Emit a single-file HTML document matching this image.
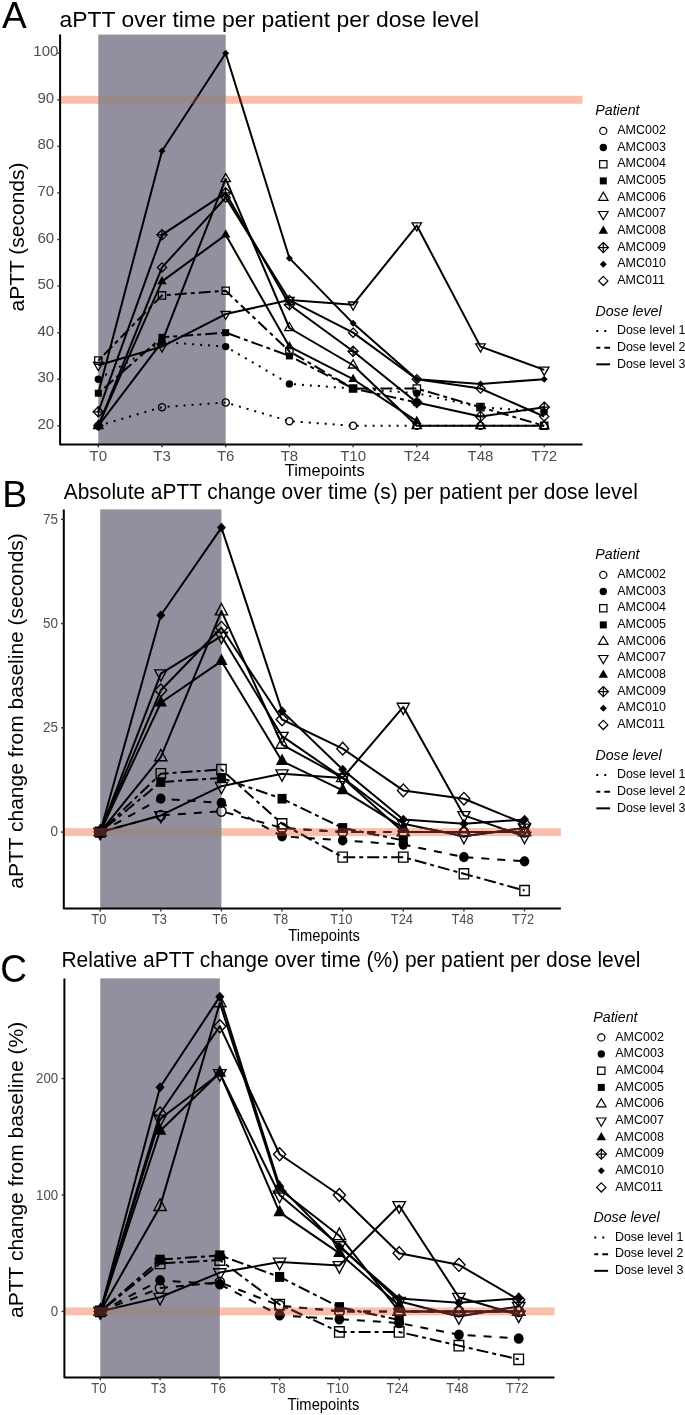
<!DOCTYPE html>
<html><head><meta charset="utf-8"><title>aPTT figure</title>
<style>
html,body{margin:0;padding:0;background:#fff;}
svg{display:block;will-change:transform;}
svg text{font-family:"Liberation Sans", sans-serif;}
</style></head>
<body>
<svg width="685" height="1415" viewBox="0 0 685 1415">
<rect width="685" height="1415" fill="#fff"/>
<rect x="98.30" y="34.60" width="127.40" height="409.80" fill="#948f9e"/>
<polyline points="98.30,425.80 162.00,407.17 225.70,402.51 289.40,421.14 353.10,425.80 416.80,425.80 480.50,425.80 544.20,425.80" fill="none" stroke="#000" stroke-width="2.0" stroke-linejoin="round" stroke-dasharray="2 6"/>
<polyline points="98.30,379.23 162.00,341.97 225.70,346.62 289.40,383.88 353.10,388.54 416.80,393.20 480.50,407.17 544.20,411.83" fill="none" stroke="#000" stroke-width="2.0" stroke-linejoin="round" stroke-dasharray="2 6"/>
<polyline points="98.30,360.60 162.00,295.39 225.70,290.73 289.40,351.28 353.10,388.54 416.80,388.54 480.50,407.17 544.20,425.80" fill="none" stroke="#000" stroke-width="2.0" stroke-linejoin="round" stroke-dasharray="4 4 12 4"/>
<polyline points="98.30,393.20 162.00,337.31 225.70,332.65 289.40,355.94 353.10,388.54 416.80,402.51" fill="none" stroke="#000" stroke-width="2.0" stroke-linejoin="round" stroke-dasharray="4 4 12 4"/>
<polyline points="98.30,425.80 162.00,341.97 225.70,178.95 289.40,327.99 353.10,365.25 416.80,425.80 480.50,425.80 544.20,425.80" fill="none" stroke="#000" stroke-width="2.0" stroke-linejoin="round"/>
<polyline points="98.30,365.25 162.00,346.62 225.70,314.02 289.40,300.05 353.10,304.71 416.80,225.53 480.50,346.62 544.20,369.91" fill="none" stroke="#000" stroke-width="2.0" stroke-linejoin="round"/>
<polyline points="98.30,425.80 162.00,281.42 225.70,234.84 289.40,346.62 353.10,379.23 416.80,421.14" fill="none" stroke="#000" stroke-width="2.0" stroke-linejoin="round"/>
<polyline points="98.30,411.83 162.00,234.84 225.70,192.93 289.40,304.71 353.10,351.28 416.80,402.51 480.50,416.49 544.20,407.17" fill="none" stroke="#000" stroke-width="2.0" stroke-linejoin="round"/>
<polyline points="98.30,393.20 162.00,151.01 225.70,53.20 289.40,258.13 353.10,323.34 416.80,379.23 480.50,383.88 544.20,379.23" fill="none" stroke="#000" stroke-width="2.0" stroke-linejoin="round"/>
<polyline points="98.30,425.80 162.00,267.45 225.70,197.58 289.40,300.05 353.10,332.65 416.80,379.23 480.50,388.54 544.20,416.49" fill="none" stroke="#000" stroke-width="2.0" stroke-linejoin="round"/>
<g transform="translate(98.30 425.80)"><circle r="3.6" fill="none" stroke="#000" stroke-width="1.3" vector-effect="non-scaling-stroke"/></g>
<g transform="translate(162.00 407.17)"><circle r="3.6" fill="none" stroke="#000" stroke-width="1.3" vector-effect="non-scaling-stroke"/></g>
<g transform="translate(225.70 402.51)"><circle r="3.6" fill="none" stroke="#000" stroke-width="1.3" vector-effect="non-scaling-stroke"/></g>
<g transform="translate(289.40 421.14)"><circle r="3.6" fill="none" stroke="#000" stroke-width="1.3" vector-effect="non-scaling-stroke"/></g>
<g transform="translate(353.10 425.80)"><circle r="3.6" fill="none" stroke="#000" stroke-width="1.3" vector-effect="non-scaling-stroke"/></g>
<g transform="translate(416.80 425.80)"><circle r="3.6" fill="none" stroke="#000" stroke-width="1.3" vector-effect="non-scaling-stroke"/></g>
<g transform="translate(480.50 425.80)"><circle r="3.6" fill="none" stroke="#000" stroke-width="1.3" vector-effect="non-scaling-stroke"/></g>
<g transform="translate(544.20 425.80)"><circle r="3.6" fill="none" stroke="#000" stroke-width="1.3" vector-effect="non-scaling-stroke"/></g>
<g transform="translate(98.30 379.23)"><circle r="3.7" fill="#000"/></g>
<g transform="translate(162.00 341.97)"><circle r="3.7" fill="#000"/></g>
<g transform="translate(225.70 346.62)"><circle r="3.7" fill="#000"/></g>
<g transform="translate(289.40 383.88)"><circle r="3.7" fill="#000"/></g>
<g transform="translate(353.10 388.54)"><circle r="3.7" fill="#000"/></g>
<g transform="translate(416.80 393.20)"><circle r="3.7" fill="#000"/></g>
<g transform="translate(480.50 407.17)"><circle r="3.7" fill="#000"/></g>
<g transform="translate(544.20 411.83)"><circle r="3.7" fill="#000"/></g>
<g transform="translate(98.30 360.60)"><rect x="-3.65" y="-3.65" width="7.3" height="7.3" fill="none" stroke="#000" stroke-width="1.3" vector-effect="non-scaling-stroke"/></g>
<g transform="translate(162.00 295.39)"><rect x="-3.65" y="-3.65" width="7.3" height="7.3" fill="none" stroke="#000" stroke-width="1.3" vector-effect="non-scaling-stroke"/></g>
<g transform="translate(225.70 290.73)"><rect x="-3.65" y="-3.65" width="7.3" height="7.3" fill="none" stroke="#000" stroke-width="1.3" vector-effect="non-scaling-stroke"/></g>
<g transform="translate(289.40 351.28)"><rect x="-3.65" y="-3.65" width="7.3" height="7.3" fill="none" stroke="#000" stroke-width="1.3" vector-effect="non-scaling-stroke"/></g>
<g transform="translate(353.10 388.54)"><rect x="-3.65" y="-3.65" width="7.3" height="7.3" fill="none" stroke="#000" stroke-width="1.3" vector-effect="non-scaling-stroke"/></g>
<g transform="translate(416.80 388.54)"><rect x="-3.65" y="-3.65" width="7.3" height="7.3" fill="none" stroke="#000" stroke-width="1.3" vector-effect="non-scaling-stroke"/></g>
<g transform="translate(480.50 407.17)"><rect x="-3.65" y="-3.65" width="7.3" height="7.3" fill="none" stroke="#000" stroke-width="1.3" vector-effect="non-scaling-stroke"/></g>
<g transform="translate(544.20 425.80)"><rect x="-3.65" y="-3.65" width="7.3" height="7.3" fill="none" stroke="#000" stroke-width="1.3" vector-effect="non-scaling-stroke"/></g>
<g transform="translate(98.30 393.20)"><rect x="-3.5" y="-3.5" width="7" height="7" fill="#000"/></g>
<g transform="translate(162.00 337.31)"><rect x="-3.5" y="-3.5" width="7" height="7" fill="#000"/></g>
<g transform="translate(225.70 332.65)"><rect x="-3.5" y="-3.5" width="7" height="7" fill="#000"/></g>
<g transform="translate(289.40 355.94)"><rect x="-3.5" y="-3.5" width="7" height="7" fill="#000"/></g>
<g transform="translate(353.10 388.54)"><rect x="-3.5" y="-3.5" width="7" height="7" fill="#000"/></g>
<g transform="translate(416.80 402.51)"><rect x="-3.5" y="-3.5" width="7" height="7" fill="#000"/></g>
<g transform="translate(98.30 425.80)"><polygon points="0.00,-5.45 4.72,2.73 -4.72,2.73" fill="none" stroke="#000" stroke-width="1.3" vector-effect="non-scaling-stroke"/></g>
<g transform="translate(162.00 341.97)"><polygon points="0.00,-5.45 4.72,2.73 -4.72,2.73" fill="none" stroke="#000" stroke-width="1.3" vector-effect="non-scaling-stroke"/></g>
<g transform="translate(225.70 178.95)"><polygon points="0.00,-5.45 4.72,2.73 -4.72,2.73" fill="none" stroke="#000" stroke-width="1.3" vector-effect="non-scaling-stroke"/></g>
<g transform="translate(289.40 327.99)"><polygon points="0.00,-5.45 4.72,2.73 -4.72,2.73" fill="none" stroke="#000" stroke-width="1.3" vector-effect="non-scaling-stroke"/></g>
<g transform="translate(353.10 365.25)"><polygon points="0.00,-5.45 4.72,2.73 -4.72,2.73" fill="none" stroke="#000" stroke-width="1.3" vector-effect="non-scaling-stroke"/></g>
<g transform="translate(416.80 425.80)"><polygon points="0.00,-5.45 4.72,2.73 -4.72,2.73" fill="none" stroke="#000" stroke-width="1.3" vector-effect="non-scaling-stroke"/></g>
<g transform="translate(480.50 425.80)"><polygon points="0.00,-5.45 4.72,2.73 -4.72,2.73" fill="none" stroke="#000" stroke-width="1.3" vector-effect="non-scaling-stroke"/></g>
<g transform="translate(544.20 425.80)"><polygon points="0.00,-5.45 4.72,2.73 -4.72,2.73" fill="none" stroke="#000" stroke-width="1.3" vector-effect="non-scaling-stroke"/></g>
<g transform="translate(98.30 365.25)"><polygon points="0.00,5.45 4.72,-2.73 -4.72,-2.73" fill="none" stroke="#000" stroke-width="1.3" vector-effect="non-scaling-stroke"/></g>
<g transform="translate(162.00 346.62)"><polygon points="0.00,5.45 4.72,-2.73 -4.72,-2.73" fill="none" stroke="#000" stroke-width="1.3" vector-effect="non-scaling-stroke"/></g>
<g transform="translate(225.70 314.02)"><polygon points="0.00,5.45 4.72,-2.73 -4.72,-2.73" fill="none" stroke="#000" stroke-width="1.3" vector-effect="non-scaling-stroke"/></g>
<g transform="translate(289.40 300.05)"><polygon points="0.00,5.45 4.72,-2.73 -4.72,-2.73" fill="none" stroke="#000" stroke-width="1.3" vector-effect="non-scaling-stroke"/></g>
<g transform="translate(353.10 304.71)"><polygon points="0.00,5.45 4.72,-2.73 -4.72,-2.73" fill="none" stroke="#000" stroke-width="1.3" vector-effect="non-scaling-stroke"/></g>
<g transform="translate(416.80 225.53)"><polygon points="0.00,5.45 4.72,-2.73 -4.72,-2.73" fill="none" stroke="#000" stroke-width="1.3" vector-effect="non-scaling-stroke"/></g>
<g transform="translate(480.50 346.62)"><polygon points="0.00,5.45 4.72,-2.73 -4.72,-2.73" fill="none" stroke="#000" stroke-width="1.3" vector-effect="non-scaling-stroke"/></g>
<g transform="translate(544.20 369.91)"><polygon points="0.00,5.45 4.72,-2.73 -4.72,-2.73" fill="none" stroke="#000" stroke-width="1.3" vector-effect="non-scaling-stroke"/></g>
<g transform="translate(98.30 425.80)"><polygon points="0.00,-5.50 4.76,2.75 -4.76,2.75" fill="#000"/></g>
<g transform="translate(162.00 281.42)"><polygon points="0.00,-5.50 4.76,2.75 -4.76,2.75" fill="#000"/></g>
<g transform="translate(225.70 234.84)"><polygon points="0.00,-5.50 4.76,2.75 -4.76,2.75" fill="#000"/></g>
<g transform="translate(289.40 346.62)"><polygon points="0.00,-5.50 4.76,2.75 -4.76,2.75" fill="#000"/></g>
<g transform="translate(353.10 379.23)"><polygon points="0.00,-5.50 4.76,2.75 -4.76,2.75" fill="#000"/></g>
<g transform="translate(416.80 421.14)"><polygon points="0.00,-5.50 4.76,2.75 -4.76,2.75" fill="#000"/></g>
<g transform="translate(98.30 411.83)"><polygon points="0,-5.10 5.10,0 0,5.10 -5.10,0" fill="none" stroke="#000" stroke-width="1.3" vector-effect="non-scaling-stroke"/><path d="M0 -5.10V5.10M-5.10 0H5.10" fill="none" stroke="#000" stroke-width="1.3" vector-effect="non-scaling-stroke"/></g>
<g transform="translate(162.00 234.84)"><polygon points="0,-5.10 5.10,0 0,5.10 -5.10,0" fill="none" stroke="#000" stroke-width="1.3" vector-effect="non-scaling-stroke"/><path d="M0 -5.10V5.10M-5.10 0H5.10" fill="none" stroke="#000" stroke-width="1.3" vector-effect="non-scaling-stroke"/></g>
<g transform="translate(225.70 192.93)"><polygon points="0,-5.10 5.10,0 0,5.10 -5.10,0" fill="none" stroke="#000" stroke-width="1.3" vector-effect="non-scaling-stroke"/><path d="M0 -5.10V5.10M-5.10 0H5.10" fill="none" stroke="#000" stroke-width="1.3" vector-effect="non-scaling-stroke"/></g>
<g transform="translate(289.40 304.71)"><polygon points="0,-5.10 5.10,0 0,5.10 -5.10,0" fill="none" stroke="#000" stroke-width="1.3" vector-effect="non-scaling-stroke"/><path d="M0 -5.10V5.10M-5.10 0H5.10" fill="none" stroke="#000" stroke-width="1.3" vector-effect="non-scaling-stroke"/></g>
<g transform="translate(353.10 351.28)"><polygon points="0,-5.10 5.10,0 0,5.10 -5.10,0" fill="none" stroke="#000" stroke-width="1.3" vector-effect="non-scaling-stroke"/><path d="M0 -5.10V5.10M-5.10 0H5.10" fill="none" stroke="#000" stroke-width="1.3" vector-effect="non-scaling-stroke"/></g>
<g transform="translate(416.80 402.51)"><polygon points="0,-5.10 5.10,0 0,5.10 -5.10,0" fill="none" stroke="#000" stroke-width="1.3" vector-effect="non-scaling-stroke"/><path d="M0 -5.10V5.10M-5.10 0H5.10" fill="none" stroke="#000" stroke-width="1.3" vector-effect="non-scaling-stroke"/></g>
<g transform="translate(480.50 416.49)"><polygon points="0,-5.10 5.10,0 0,5.10 -5.10,0" fill="none" stroke="#000" stroke-width="1.3" vector-effect="non-scaling-stroke"/><path d="M0 -5.10V5.10M-5.10 0H5.10" fill="none" stroke="#000" stroke-width="1.3" vector-effect="non-scaling-stroke"/></g>
<g transform="translate(544.20 407.17)"><polygon points="0,-5.10 5.10,0 0,5.10 -5.10,0" fill="none" stroke="#000" stroke-width="1.3" vector-effect="non-scaling-stroke"/><path d="M0 -5.10V5.10M-5.10 0H5.10" fill="none" stroke="#000" stroke-width="1.3" vector-effect="non-scaling-stroke"/></g>
<g transform="translate(98.30 393.20)"><polygon points="0,-3.50 3.50,0 0,3.50 -3.50,0" fill="#000"/></g>
<g transform="translate(162.00 151.01)"><polygon points="0,-3.50 3.50,0 0,3.50 -3.50,0" fill="#000"/></g>
<g transform="translate(225.70 53.20)"><polygon points="0,-3.50 3.50,0 0,3.50 -3.50,0" fill="#000"/></g>
<g transform="translate(289.40 258.13)"><polygon points="0,-3.50 3.50,0 0,3.50 -3.50,0" fill="#000"/></g>
<g transform="translate(353.10 323.34)"><polygon points="0,-3.50 3.50,0 0,3.50 -3.50,0" fill="#000"/></g>
<g transform="translate(416.80 379.23)"><polygon points="0,-3.50 3.50,0 0,3.50 -3.50,0" fill="#000"/></g>
<g transform="translate(480.50 383.88)"><polygon points="0,-3.50 3.50,0 0,3.50 -3.50,0" fill="#000"/></g>
<g transform="translate(544.20 379.23)"><polygon points="0,-3.50 3.50,0 0,3.50 -3.50,0" fill="#000"/></g>
<g transform="translate(98.30 425.80)"><polygon points="0,-4.60 4.60,0 0,4.60 -4.60,0" fill="none" stroke="#000" stroke-width="1.3" vector-effect="non-scaling-stroke"/></g>
<g transform="translate(162.00 267.45)"><polygon points="0,-4.60 4.60,0 0,4.60 -4.60,0" fill="none" stroke="#000" stroke-width="1.3" vector-effect="non-scaling-stroke"/></g>
<g transform="translate(225.70 197.58)"><polygon points="0,-4.60 4.60,0 0,4.60 -4.60,0" fill="none" stroke="#000" stroke-width="1.3" vector-effect="non-scaling-stroke"/></g>
<g transform="translate(289.40 300.05)"><polygon points="0,-4.60 4.60,0 0,4.60 -4.60,0" fill="none" stroke="#000" stroke-width="1.3" vector-effect="non-scaling-stroke"/></g>
<g transform="translate(353.10 332.65)"><polygon points="0,-4.60 4.60,0 0,4.60 -4.60,0" fill="none" stroke="#000" stroke-width="1.3" vector-effect="non-scaling-stroke"/></g>
<g transform="translate(416.80 379.23)"><polygon points="0,-4.60 4.60,0 0,4.60 -4.60,0" fill="none" stroke="#000" stroke-width="1.3" vector-effect="non-scaling-stroke"/></g>
<g transform="translate(480.50 388.54)"><polygon points="0,-4.60 4.60,0 0,4.60 -4.60,0" fill="none" stroke="#000" stroke-width="1.3" vector-effect="non-scaling-stroke"/></g>
<g transform="translate(544.20 416.49)"><polygon points="0,-4.60 4.60,0 0,4.60 -4.60,0" fill="none" stroke="#000" stroke-width="1.3" vector-effect="non-scaling-stroke"/></g>
<rect x="60.10" y="95.78" width="38.20" height="8.0" fill="rgb(236,83,26)" fill-opacity="0.365"/>
<rect x="98.30" y="95.78" width="127.40" height="8.0" fill="rgb(158,127,92)" fill-opacity="0.34"/>
<rect x="225.70" y="95.78" width="356.80" height="8.0" fill="rgb(236,83,26)" fill-opacity="0.365"/>
<clipPath id="clipA"><rect x="60.10" y="95.78" width="522.40" height="8.0"/></clipPath>
<g clip-path="url(#clipA)"><polyline points="98.30,425.80 162.00,407.17 225.70,402.51 289.40,421.14 353.10,425.80 416.80,425.80 480.50,425.80 544.20,425.80" fill="none" stroke="#4c1f1f" stroke-width="2.0" stroke-linejoin="round" stroke-dasharray="2 6"/>
<polyline points="98.30,379.23 162.00,341.97 225.70,346.62 289.40,383.88 353.10,388.54 416.80,393.20 480.50,407.17 544.20,411.83" fill="none" stroke="#4c1f1f" stroke-width="2.0" stroke-linejoin="round" stroke-dasharray="2 6"/>
<polyline points="98.30,360.60 162.00,295.39 225.70,290.73 289.40,351.28 353.10,388.54 416.80,388.54 480.50,407.17 544.20,425.80" fill="none" stroke="#4c1f1f" stroke-width="2.0" stroke-linejoin="round" stroke-dasharray="4 4 12 4"/>
<polyline points="98.30,393.20 162.00,337.31 225.70,332.65 289.40,355.94 353.10,388.54 416.80,402.51" fill="none" stroke="#4c1f1f" stroke-width="2.0" stroke-linejoin="round" stroke-dasharray="4 4 12 4"/>
<polyline points="98.30,425.80 162.00,341.97 225.70,178.95 289.40,327.99 353.10,365.25 416.80,425.80 480.50,425.80 544.20,425.80" fill="none" stroke="#4c1f1f" stroke-width="2.0" stroke-linejoin="round"/>
<polyline points="98.30,365.25 162.00,346.62 225.70,314.02 289.40,300.05 353.10,304.71 416.80,225.53 480.50,346.62 544.20,369.91" fill="none" stroke="#4c1f1f" stroke-width="2.0" stroke-linejoin="round"/>
<polyline points="98.30,425.80 162.00,281.42 225.70,234.84 289.40,346.62 353.10,379.23 416.80,421.14" fill="none" stroke="#4c1f1f" stroke-width="2.0" stroke-linejoin="round"/>
<polyline points="98.30,411.83 162.00,234.84 225.70,192.93 289.40,304.71 353.10,351.28 416.80,402.51 480.50,416.49 544.20,407.17" fill="none" stroke="#4c1f1f" stroke-width="2.0" stroke-linejoin="round"/>
<polyline points="98.30,393.20 162.00,151.01 225.70,53.20 289.40,258.13 353.10,323.34 416.80,379.23 480.50,383.88 544.20,379.23" fill="none" stroke="#4c1f1f" stroke-width="2.0" stroke-linejoin="round"/>
<polyline points="98.30,425.80 162.00,267.45 225.70,197.58 289.40,300.05 353.10,332.65 416.80,379.23 480.50,388.54 544.20,416.49" fill="none" stroke="#4c1f1f" stroke-width="2.0" stroke-linejoin="round"/>
<g transform="translate(98.30 425.80)"><circle r="3.6" fill="none" stroke="#4c1f1f" stroke-width="1.3" vector-effect="non-scaling-stroke"/></g>
<g transform="translate(162.00 407.17)"><circle r="3.6" fill="none" stroke="#4c1f1f" stroke-width="1.3" vector-effect="non-scaling-stroke"/></g>
<g transform="translate(225.70 402.51)"><circle r="3.6" fill="none" stroke="#4c1f1f" stroke-width="1.3" vector-effect="non-scaling-stroke"/></g>
<g transform="translate(289.40 421.14)"><circle r="3.6" fill="none" stroke="#4c1f1f" stroke-width="1.3" vector-effect="non-scaling-stroke"/></g>
<g transform="translate(353.10 425.80)"><circle r="3.6" fill="none" stroke="#4c1f1f" stroke-width="1.3" vector-effect="non-scaling-stroke"/></g>
<g transform="translate(416.80 425.80)"><circle r="3.6" fill="none" stroke="#4c1f1f" stroke-width="1.3" vector-effect="non-scaling-stroke"/></g>
<g transform="translate(480.50 425.80)"><circle r="3.6" fill="none" stroke="#4c1f1f" stroke-width="1.3" vector-effect="non-scaling-stroke"/></g>
<g transform="translate(544.20 425.80)"><circle r="3.6" fill="none" stroke="#4c1f1f" stroke-width="1.3" vector-effect="non-scaling-stroke"/></g>
<g transform="translate(98.30 379.23)"><circle r="3.7" fill="#4c1f1f"/></g>
<g transform="translate(162.00 341.97)"><circle r="3.7" fill="#4c1f1f"/></g>
<g transform="translate(225.70 346.62)"><circle r="3.7" fill="#4c1f1f"/></g>
<g transform="translate(289.40 383.88)"><circle r="3.7" fill="#4c1f1f"/></g>
<g transform="translate(353.10 388.54)"><circle r="3.7" fill="#4c1f1f"/></g>
<g transform="translate(416.80 393.20)"><circle r="3.7" fill="#4c1f1f"/></g>
<g transform="translate(480.50 407.17)"><circle r="3.7" fill="#4c1f1f"/></g>
<g transform="translate(544.20 411.83)"><circle r="3.7" fill="#4c1f1f"/></g>
<g transform="translate(98.30 360.60)"><rect x="-3.65" y="-3.65" width="7.3" height="7.3" fill="none" stroke="#4c1f1f" stroke-width="1.3" vector-effect="non-scaling-stroke"/></g>
<g transform="translate(162.00 295.39)"><rect x="-3.65" y="-3.65" width="7.3" height="7.3" fill="none" stroke="#4c1f1f" stroke-width="1.3" vector-effect="non-scaling-stroke"/></g>
<g transform="translate(225.70 290.73)"><rect x="-3.65" y="-3.65" width="7.3" height="7.3" fill="none" stroke="#4c1f1f" stroke-width="1.3" vector-effect="non-scaling-stroke"/></g>
<g transform="translate(289.40 351.28)"><rect x="-3.65" y="-3.65" width="7.3" height="7.3" fill="none" stroke="#4c1f1f" stroke-width="1.3" vector-effect="non-scaling-stroke"/></g>
<g transform="translate(353.10 388.54)"><rect x="-3.65" y="-3.65" width="7.3" height="7.3" fill="none" stroke="#4c1f1f" stroke-width="1.3" vector-effect="non-scaling-stroke"/></g>
<g transform="translate(416.80 388.54)"><rect x="-3.65" y="-3.65" width="7.3" height="7.3" fill="none" stroke="#4c1f1f" stroke-width="1.3" vector-effect="non-scaling-stroke"/></g>
<g transform="translate(480.50 407.17)"><rect x="-3.65" y="-3.65" width="7.3" height="7.3" fill="none" stroke="#4c1f1f" stroke-width="1.3" vector-effect="non-scaling-stroke"/></g>
<g transform="translate(544.20 425.80)"><rect x="-3.65" y="-3.65" width="7.3" height="7.3" fill="none" stroke="#4c1f1f" stroke-width="1.3" vector-effect="non-scaling-stroke"/></g>
<g transform="translate(98.30 393.20)"><rect x="-3.5" y="-3.5" width="7" height="7" fill="#4c1f1f"/></g>
<g transform="translate(162.00 337.31)"><rect x="-3.5" y="-3.5" width="7" height="7" fill="#4c1f1f"/></g>
<g transform="translate(225.70 332.65)"><rect x="-3.5" y="-3.5" width="7" height="7" fill="#4c1f1f"/></g>
<g transform="translate(289.40 355.94)"><rect x="-3.5" y="-3.5" width="7" height="7" fill="#4c1f1f"/></g>
<g transform="translate(353.10 388.54)"><rect x="-3.5" y="-3.5" width="7" height="7" fill="#4c1f1f"/></g>
<g transform="translate(416.80 402.51)"><rect x="-3.5" y="-3.5" width="7" height="7" fill="#4c1f1f"/></g>
<g transform="translate(98.30 425.80)"><polygon points="0.00,-5.45 4.72,2.73 -4.72,2.73" fill="none" stroke="#4c1f1f" stroke-width="1.3" vector-effect="non-scaling-stroke"/></g>
<g transform="translate(162.00 341.97)"><polygon points="0.00,-5.45 4.72,2.73 -4.72,2.73" fill="none" stroke="#4c1f1f" stroke-width="1.3" vector-effect="non-scaling-stroke"/></g>
<g transform="translate(225.70 178.95)"><polygon points="0.00,-5.45 4.72,2.73 -4.72,2.73" fill="none" stroke="#4c1f1f" stroke-width="1.3" vector-effect="non-scaling-stroke"/></g>
<g transform="translate(289.40 327.99)"><polygon points="0.00,-5.45 4.72,2.73 -4.72,2.73" fill="none" stroke="#4c1f1f" stroke-width="1.3" vector-effect="non-scaling-stroke"/></g>
<g transform="translate(353.10 365.25)"><polygon points="0.00,-5.45 4.72,2.73 -4.72,2.73" fill="none" stroke="#4c1f1f" stroke-width="1.3" vector-effect="non-scaling-stroke"/></g>
<g transform="translate(416.80 425.80)"><polygon points="0.00,-5.45 4.72,2.73 -4.72,2.73" fill="none" stroke="#4c1f1f" stroke-width="1.3" vector-effect="non-scaling-stroke"/></g>
<g transform="translate(480.50 425.80)"><polygon points="0.00,-5.45 4.72,2.73 -4.72,2.73" fill="none" stroke="#4c1f1f" stroke-width="1.3" vector-effect="non-scaling-stroke"/></g>
<g transform="translate(544.20 425.80)"><polygon points="0.00,-5.45 4.72,2.73 -4.72,2.73" fill="none" stroke="#4c1f1f" stroke-width="1.3" vector-effect="non-scaling-stroke"/></g>
<g transform="translate(98.30 365.25)"><polygon points="0.00,5.45 4.72,-2.73 -4.72,-2.73" fill="none" stroke="#4c1f1f" stroke-width="1.3" vector-effect="non-scaling-stroke"/></g>
<g transform="translate(162.00 346.62)"><polygon points="0.00,5.45 4.72,-2.73 -4.72,-2.73" fill="none" stroke="#4c1f1f" stroke-width="1.3" vector-effect="non-scaling-stroke"/></g>
<g transform="translate(225.70 314.02)"><polygon points="0.00,5.45 4.72,-2.73 -4.72,-2.73" fill="none" stroke="#4c1f1f" stroke-width="1.3" vector-effect="non-scaling-stroke"/></g>
<g transform="translate(289.40 300.05)"><polygon points="0.00,5.45 4.72,-2.73 -4.72,-2.73" fill="none" stroke="#4c1f1f" stroke-width="1.3" vector-effect="non-scaling-stroke"/></g>
<g transform="translate(353.10 304.71)"><polygon points="0.00,5.45 4.72,-2.73 -4.72,-2.73" fill="none" stroke="#4c1f1f" stroke-width="1.3" vector-effect="non-scaling-stroke"/></g>
<g transform="translate(416.80 225.53)"><polygon points="0.00,5.45 4.72,-2.73 -4.72,-2.73" fill="none" stroke="#4c1f1f" stroke-width="1.3" vector-effect="non-scaling-stroke"/></g>
<g transform="translate(480.50 346.62)"><polygon points="0.00,5.45 4.72,-2.73 -4.72,-2.73" fill="none" stroke="#4c1f1f" stroke-width="1.3" vector-effect="non-scaling-stroke"/></g>
<g transform="translate(544.20 369.91)"><polygon points="0.00,5.45 4.72,-2.73 -4.72,-2.73" fill="none" stroke="#4c1f1f" stroke-width="1.3" vector-effect="non-scaling-stroke"/></g>
<g transform="translate(98.30 425.80)"><polygon points="0.00,-5.50 4.76,2.75 -4.76,2.75" fill="#4c1f1f"/></g>
<g transform="translate(162.00 281.42)"><polygon points="0.00,-5.50 4.76,2.75 -4.76,2.75" fill="#4c1f1f"/></g>
<g transform="translate(225.70 234.84)"><polygon points="0.00,-5.50 4.76,2.75 -4.76,2.75" fill="#4c1f1f"/></g>
<g transform="translate(289.40 346.62)"><polygon points="0.00,-5.50 4.76,2.75 -4.76,2.75" fill="#4c1f1f"/></g>
<g transform="translate(353.10 379.23)"><polygon points="0.00,-5.50 4.76,2.75 -4.76,2.75" fill="#4c1f1f"/></g>
<g transform="translate(416.80 421.14)"><polygon points="0.00,-5.50 4.76,2.75 -4.76,2.75" fill="#4c1f1f"/></g>
<g transform="translate(98.30 411.83)"><polygon points="0,-5.10 5.10,0 0,5.10 -5.10,0" fill="none" stroke="#4c1f1f" stroke-width="1.3" vector-effect="non-scaling-stroke"/><path d="M0 -5.10V5.10M-5.10 0H5.10" fill="none" stroke="#4c1f1f" stroke-width="1.3" vector-effect="non-scaling-stroke"/></g>
<g transform="translate(162.00 234.84)"><polygon points="0,-5.10 5.10,0 0,5.10 -5.10,0" fill="none" stroke="#4c1f1f" stroke-width="1.3" vector-effect="non-scaling-stroke"/><path d="M0 -5.10V5.10M-5.10 0H5.10" fill="none" stroke="#4c1f1f" stroke-width="1.3" vector-effect="non-scaling-stroke"/></g>
<g transform="translate(225.70 192.93)"><polygon points="0,-5.10 5.10,0 0,5.10 -5.10,0" fill="none" stroke="#4c1f1f" stroke-width="1.3" vector-effect="non-scaling-stroke"/><path d="M0 -5.10V5.10M-5.10 0H5.10" fill="none" stroke="#4c1f1f" stroke-width="1.3" vector-effect="non-scaling-stroke"/></g>
<g transform="translate(289.40 304.71)"><polygon points="0,-5.10 5.10,0 0,5.10 -5.10,0" fill="none" stroke="#4c1f1f" stroke-width="1.3" vector-effect="non-scaling-stroke"/><path d="M0 -5.10V5.10M-5.10 0H5.10" fill="none" stroke="#4c1f1f" stroke-width="1.3" vector-effect="non-scaling-stroke"/></g>
<g transform="translate(353.10 351.28)"><polygon points="0,-5.10 5.10,0 0,5.10 -5.10,0" fill="none" stroke="#4c1f1f" stroke-width="1.3" vector-effect="non-scaling-stroke"/><path d="M0 -5.10V5.10M-5.10 0H5.10" fill="none" stroke="#4c1f1f" stroke-width="1.3" vector-effect="non-scaling-stroke"/></g>
<g transform="translate(416.80 402.51)"><polygon points="0,-5.10 5.10,0 0,5.10 -5.10,0" fill="none" stroke="#4c1f1f" stroke-width="1.3" vector-effect="non-scaling-stroke"/><path d="M0 -5.10V5.10M-5.10 0H5.10" fill="none" stroke="#4c1f1f" stroke-width="1.3" vector-effect="non-scaling-stroke"/></g>
<g transform="translate(480.50 416.49)"><polygon points="0,-5.10 5.10,0 0,5.10 -5.10,0" fill="none" stroke="#4c1f1f" stroke-width="1.3" vector-effect="non-scaling-stroke"/><path d="M0 -5.10V5.10M-5.10 0H5.10" fill="none" stroke="#4c1f1f" stroke-width="1.3" vector-effect="non-scaling-stroke"/></g>
<g transform="translate(544.20 407.17)"><polygon points="0,-5.10 5.10,0 0,5.10 -5.10,0" fill="none" stroke="#4c1f1f" stroke-width="1.3" vector-effect="non-scaling-stroke"/><path d="M0 -5.10V5.10M-5.10 0H5.10" fill="none" stroke="#4c1f1f" stroke-width="1.3" vector-effect="non-scaling-stroke"/></g>
<g transform="translate(98.30 393.20)"><polygon points="0,-3.50 3.50,0 0,3.50 -3.50,0" fill="#4c1f1f"/></g>
<g transform="translate(162.00 151.01)"><polygon points="0,-3.50 3.50,0 0,3.50 -3.50,0" fill="#4c1f1f"/></g>
<g transform="translate(225.70 53.20)"><polygon points="0,-3.50 3.50,0 0,3.50 -3.50,0" fill="#4c1f1f"/></g>
<g transform="translate(289.40 258.13)"><polygon points="0,-3.50 3.50,0 0,3.50 -3.50,0" fill="#4c1f1f"/></g>
<g transform="translate(353.10 323.34)"><polygon points="0,-3.50 3.50,0 0,3.50 -3.50,0" fill="#4c1f1f"/></g>
<g transform="translate(416.80 379.23)"><polygon points="0,-3.50 3.50,0 0,3.50 -3.50,0" fill="#4c1f1f"/></g>
<g transform="translate(480.50 383.88)"><polygon points="0,-3.50 3.50,0 0,3.50 -3.50,0" fill="#4c1f1f"/></g>
<g transform="translate(544.20 379.23)"><polygon points="0,-3.50 3.50,0 0,3.50 -3.50,0" fill="#4c1f1f"/></g>
<g transform="translate(98.30 425.80)"><polygon points="0,-4.60 4.60,0 0,4.60 -4.60,0" fill="none" stroke="#4c1f1f" stroke-width="1.3" vector-effect="non-scaling-stroke"/></g>
<g transform="translate(162.00 267.45)"><polygon points="0,-4.60 4.60,0 0,4.60 -4.60,0" fill="none" stroke="#4c1f1f" stroke-width="1.3" vector-effect="non-scaling-stroke"/></g>
<g transform="translate(225.70 197.58)"><polygon points="0,-4.60 4.60,0 0,4.60 -4.60,0" fill="none" stroke="#4c1f1f" stroke-width="1.3" vector-effect="non-scaling-stroke"/></g>
<g transform="translate(289.40 300.05)"><polygon points="0,-4.60 4.60,0 0,4.60 -4.60,0" fill="none" stroke="#4c1f1f" stroke-width="1.3" vector-effect="non-scaling-stroke"/></g>
<g transform="translate(353.10 332.65)"><polygon points="0,-4.60 4.60,0 0,4.60 -4.60,0" fill="none" stroke="#4c1f1f" stroke-width="1.3" vector-effect="non-scaling-stroke"/></g>
<g transform="translate(416.80 379.23)"><polygon points="0,-4.60 4.60,0 0,4.60 -4.60,0" fill="none" stroke="#4c1f1f" stroke-width="1.3" vector-effect="non-scaling-stroke"/></g>
<g transform="translate(480.50 388.54)"><polygon points="0,-4.60 4.60,0 0,4.60 -4.60,0" fill="none" stroke="#4c1f1f" stroke-width="1.3" vector-effect="non-scaling-stroke"/></g>
<g transform="translate(544.20 416.49)"><polygon points="0,-4.60 4.60,0 0,4.60 -4.60,0" fill="none" stroke="#4c1f1f" stroke-width="1.3" vector-effect="non-scaling-stroke"/></g></g>
<path d="M60.10 34.60V444.40H582.50" fill="none" stroke="#000" stroke-width="2" stroke-linejoin="round"/>
<path d="M57.30 425.80H60.1" stroke="#333" stroke-width="1.4"/>
<text x="0" y="0" transform="translate(45.85 428.90)" fill="#4d4d4d" style="font-size:15.0px;" text-anchor="middle">20</text>
<path d="M57.30 379.23H60.1" stroke="#333" stroke-width="1.4"/>
<text x="0" y="0" transform="translate(45.85 382.33)" fill="#4d4d4d" style="font-size:15.0px;" text-anchor="middle">30</text>
<path d="M57.30 332.65H60.1" stroke="#333" stroke-width="1.4"/>
<text x="0" y="0" transform="translate(45.85 335.75)" fill="#4d4d4d" style="font-size:15.0px;" text-anchor="middle">40</text>
<path d="M57.30 286.08H60.1" stroke="#333" stroke-width="1.4"/>
<text x="0" y="0" transform="translate(45.85 289.18)" fill="#4d4d4d" style="font-size:15.0px;" text-anchor="middle">50</text>
<path d="M57.30 239.50H60.1" stroke="#333" stroke-width="1.4"/>
<text x="0" y="0" transform="translate(45.85 242.60)" fill="#4d4d4d" style="font-size:15.0px;" text-anchor="middle">60</text>
<path d="M57.30 192.93H60.1" stroke="#333" stroke-width="1.4"/>
<text x="0" y="0" transform="translate(45.85 196.03)" fill="#4d4d4d" style="font-size:15.0px;" text-anchor="middle">70</text>
<path d="M57.30 146.35H60.1" stroke="#333" stroke-width="1.4"/>
<text x="0" y="0" transform="translate(45.85 149.45)" fill="#4d4d4d" style="font-size:15.0px;" text-anchor="middle">80</text>
<path d="M57.30 99.78H60.1" stroke="#333" stroke-width="1.4"/>
<text x="0" y="0" transform="translate(45.85 102.88)" fill="#4d4d4d" style="font-size:15.0px;" text-anchor="middle">90</text>
<path d="M57.30 53.20H60.1" stroke="#333" stroke-width="1.4"/>
<text x="0" y="0" transform="translate(45.85 56.30)" fill="#4d4d4d" style="font-size:15.0px;" text-anchor="middle">100</text>
<path d="M98.30 444.4V447.20" stroke="#333" stroke-width="1.4"/>
<text x="0" y="0" transform="translate(98.30 461.00)" fill="#4d4d4d" style="font-size:15.0px;" text-anchor="middle">T0</text>
<path d="M162.00 444.4V447.20" stroke="#333" stroke-width="1.4"/>
<text x="0" y="0" transform="translate(162.00 461.00)" fill="#4d4d4d" style="font-size:15.0px;" text-anchor="middle">T3</text>
<path d="M225.70 444.4V447.20" stroke="#333" stroke-width="1.4"/>
<text x="0" y="0" transform="translate(225.70 461.00)" fill="#4d4d4d" style="font-size:15.0px;" text-anchor="middle">T6</text>
<path d="M289.40 444.4V447.20" stroke="#333" stroke-width="1.4"/>
<text x="0" y="0" transform="translate(289.40 461.00)" fill="#4d4d4d" style="font-size:15.0px;" text-anchor="middle">T8</text>
<path d="M353.10 444.4V447.20" stroke="#333" stroke-width="1.4"/>
<text x="0" y="0" transform="translate(353.10 461.00)" fill="#4d4d4d" style="font-size:15.0px;" text-anchor="middle">T10</text>
<path d="M416.80 444.4V447.20" stroke="#333" stroke-width="1.4"/>
<text x="0" y="0" transform="translate(416.80 461.00)" fill="#4d4d4d" style="font-size:15.0px;" text-anchor="middle">T24</text>
<path d="M480.50 444.4V447.20" stroke="#333" stroke-width="1.4"/>
<text x="0" y="0" transform="translate(480.50 461.00)" fill="#4d4d4d" style="font-size:15.0px;" text-anchor="middle">T48</text>
<path d="M544.20 444.4V447.20" stroke="#333" stroke-width="1.4"/>
<text x="0" y="0" transform="translate(544.20 461.00)" fill="#4d4d4d" style="font-size:15.0px;" text-anchor="middle">T72</text>
<text x="0" y="0" transform="translate(284.70 476.30) scale(1.0172 1)" fill="#000" style="font-size:16.2px;">Timepoints</text>
<text x="0" y="0" transform="translate(23.50 311.50) rotate(-90)" fill="#000" style="font-size:21.0px;">aPTT (seconds)</text>
<text x="0" y="0" transform="translate(59.60 27.30)" fill="#000" style="font-size:22.9px;">aPTT over time per patient per dose level</text>
<text x="0" y="0" transform="translate(2.10 27.80) scale(1 1.000)" fill="#000" style="font-size:37.0px;">A</text>
<text x="0" y="0" transform="translate(595.30 115.30)" fill="#000" style="font-size:14.2px;font-style:italic;">Patient</text>
<g transform="translate(603.30 130.90)"><circle r="3.6" fill="none" stroke="#000" stroke-width="1.2" vector-effect="non-scaling-stroke"/></g>
<text x="0" y="0" transform="translate(617.30 134.10)" fill="#000" style="font-size:12.47px;">AMC002</text>
<g transform="translate(603.30 147.57)"><circle r="3.7" fill="#000"/></g>
<text x="0" y="0" transform="translate(617.30 150.77)" fill="#000" style="font-size:12.47px;">AMC003</text>
<g transform="translate(603.30 164.24)"><rect x="-3.65" y="-3.65" width="7.3" height="7.3" fill="none" stroke="#000" stroke-width="1.2" vector-effect="non-scaling-stroke"/></g>
<text x="0" y="0" transform="translate(617.30 167.44)" fill="#000" style="font-size:12.47px;">AMC004</text>
<g transform="translate(603.30 180.91)"><rect x="-3.5" y="-3.5" width="7" height="7" fill="#000"/></g>
<text x="0" y="0" transform="translate(617.30 184.11)" fill="#000" style="font-size:12.47px;">AMC005</text>
<g transform="translate(603.30 197.58)"><polygon points="0.00,-5.45 4.72,2.73 -4.72,2.73" fill="none" stroke="#000" stroke-width="1.2" vector-effect="non-scaling-stroke"/></g>
<text x="0" y="0" transform="translate(617.30 200.78)" fill="#000" style="font-size:12.47px;">AMC006</text>
<g transform="translate(603.30 214.25)"><polygon points="0.00,5.45 4.72,-2.73 -4.72,-2.73" fill="none" stroke="#000" stroke-width="1.2" vector-effect="non-scaling-stroke"/></g>
<text x="0" y="0" transform="translate(617.30 217.45)" fill="#000" style="font-size:12.47px;">AMC007</text>
<g transform="translate(603.30 230.92)"><polygon points="0.00,-5.50 4.76,2.75 -4.76,2.75" fill="#000"/></g>
<text x="0" y="0" transform="translate(617.30 234.12)" fill="#000" style="font-size:12.47px;">AMC008</text>
<g transform="translate(603.30 247.59)"><polygon points="0,-5.10 5.10,0 0,5.10 -5.10,0" fill="none" stroke="#000" stroke-width="1.2" vector-effect="non-scaling-stroke"/><path d="M0 -5.10V5.10M-5.10 0H5.10" fill="none" stroke="#000" stroke-width="1.2" vector-effect="non-scaling-stroke"/></g>
<text x="0" y="0" transform="translate(617.30 250.79)" fill="#000" style="font-size:12.47px;">AMC009</text>
<g transform="translate(603.30 264.26)"><polygon points="0,-3.50 3.50,0 0,3.50 -3.50,0" fill="#000"/></g>
<text x="0" y="0" transform="translate(617.30 267.46)" fill="#000" style="font-size:12.47px;">AMC010</text>
<g transform="translate(603.30 280.93)"><polygon points="0,-4.60 4.60,0 0,4.60 -4.60,0" fill="none" stroke="#000" stroke-width="1.2" vector-effect="non-scaling-stroke"/></g>
<text x="0" y="0" transform="translate(617.30 284.13)" fill="#000" style="font-size:12.47px;">AMC011</text>
<text x="0" y="0" transform="translate(595.40 315.70)" fill="#000" style="font-size:14.2px;font-style:italic;">Dose level</text>
<path d="M596.30 331.00H610.10" stroke="#000" stroke-width="2.0" stroke-dasharray="2 6"/>
<text x="0" y="0" transform="translate(616.90 334.20)" fill="#000" style="font-size:12.47px;">Dose level 1</text>
<path d="M596.30 347.67H610.10" stroke="#000" stroke-width="2.0" stroke-dasharray="4 4 12 4"/>
<text x="0" y="0" transform="translate(616.90 350.87)" fill="#000" style="font-size:12.47px;">Dose level 2</text>
<path d="M596.30 364.34H610.10" stroke="#000" stroke-width="2.0"/>
<text x="0" y="0" transform="translate(616.90 367.54)" fill="#000" style="font-size:12.47px;">Dose level 3</text>
<rect x="100.20" y="509.40" width="121.24" height="399.20" fill="#948f9e"/>
<polyline points="100.20,832.10 160.82,815.42 221.44,811.25 282.06,827.93 342.68,832.10 403.30,832.10 463.92,832.10 524.54,832.10" fill="none" stroke="#000" stroke-width="2.0" stroke-linejoin="round" stroke-dasharray="8 8"/>
<polyline points="100.20,832.10 160.82,798.73 221.44,802.90 282.06,836.27 342.68,840.44 403.30,844.61 463.92,857.13 524.54,861.30" fill="none" stroke="#000" stroke-width="2.0" stroke-linejoin="round" stroke-dasharray="8 8"/>
<polyline points="100.20,832.10 160.82,773.71 221.44,769.53 282.06,823.76 342.68,857.13 403.30,857.13 463.92,873.81 524.54,890.49" fill="none" stroke="#000" stroke-width="2.0" stroke-linejoin="round" stroke-dasharray="4 4 12 4"/>
<polyline points="100.20,832.10 160.82,782.05 221.44,777.88 282.06,798.73 342.68,827.93 403.30,840.44" fill="none" stroke="#000" stroke-width="2.0" stroke-linejoin="round" stroke-dasharray="4 4 12 4"/>
<polyline points="100.20,832.10 160.82,757.02 221.44,611.04 282.06,744.51 342.68,777.88 403.30,832.10 463.92,832.10 524.54,832.10" fill="none" stroke="#000" stroke-width="2.0" stroke-linejoin="round"/>
<polyline points="100.20,832.10 160.82,815.42 221.44,786.22 282.06,773.71 342.68,777.88 403.30,706.97 463.92,815.42 524.54,836.27" fill="none" stroke="#000" stroke-width="2.0" stroke-linejoin="round"/>
<polyline points="100.20,832.10 160.82,702.80 221.44,661.09 282.06,761.19 342.68,790.39 403.30,827.93" fill="none" stroke="#000" stroke-width="2.0" stroke-linejoin="round"/>
<polyline points="100.20,832.10 160.82,673.60 221.44,636.06 282.06,736.17 342.68,777.88 403.30,823.76 463.92,836.27 524.54,827.93" fill="none" stroke="#000" stroke-width="2.0" stroke-linejoin="round"/>
<polyline points="100.20,832.10 160.82,615.21 221.44,527.62 282.06,711.14 342.68,769.53 403.30,819.59 463.92,823.76 524.54,819.59" fill="none" stroke="#000" stroke-width="2.0" stroke-linejoin="round"/>
<polyline points="100.20,832.10 160.82,690.29 221.44,627.72 282.06,719.48 342.68,748.68 403.30,790.39 463.92,798.73 524.54,823.76" fill="none" stroke="#000" stroke-width="2.0" stroke-linejoin="round"/>
<g transform="translate(100.20 832.10) scale(1.290 1.380)"><circle r="3.6" fill="none" stroke="#000" stroke-width="1.35" vector-effect="non-scaling-stroke"/></g>
<g transform="translate(160.82 815.42) scale(1.290 1.380)"><circle r="3.6" fill="none" stroke="#000" stroke-width="1.35" vector-effect="non-scaling-stroke"/></g>
<g transform="translate(221.44 811.25) scale(1.290 1.380)"><circle r="3.6" fill="none" stroke="#000" stroke-width="1.35" vector-effect="non-scaling-stroke"/></g>
<g transform="translate(282.06 827.93) scale(1.290 1.380)"><circle r="3.6" fill="none" stroke="#000" stroke-width="1.35" vector-effect="non-scaling-stroke"/></g>
<g transform="translate(342.68 832.10) scale(1.290 1.380)"><circle r="3.6" fill="none" stroke="#000" stroke-width="1.35" vector-effect="non-scaling-stroke"/></g>
<g transform="translate(403.30 832.10) scale(1.290 1.380)"><circle r="3.6" fill="none" stroke="#000" stroke-width="1.35" vector-effect="non-scaling-stroke"/></g>
<g transform="translate(463.92 832.10) scale(1.290 1.380)"><circle r="3.6" fill="none" stroke="#000" stroke-width="1.35" vector-effect="non-scaling-stroke"/></g>
<g transform="translate(524.54 832.10) scale(1.290 1.380)"><circle r="3.6" fill="none" stroke="#000" stroke-width="1.35" vector-effect="non-scaling-stroke"/></g>
<g transform="translate(100.20 832.10) scale(1.290 1.380)"><circle r="3.7" fill="#000"/></g>
<g transform="translate(160.82 798.73) scale(1.290 1.380)"><circle r="3.7" fill="#000"/></g>
<g transform="translate(221.44 802.90) scale(1.290 1.380)"><circle r="3.7" fill="#000"/></g>
<g transform="translate(282.06 836.27) scale(1.290 1.380)"><circle r="3.7" fill="#000"/></g>
<g transform="translate(342.68 840.44) scale(1.290 1.380)"><circle r="3.7" fill="#000"/></g>
<g transform="translate(403.30 844.61) scale(1.290 1.380)"><circle r="3.7" fill="#000"/></g>
<g transform="translate(463.92 857.13) scale(1.290 1.380)"><circle r="3.7" fill="#000"/></g>
<g transform="translate(524.54 861.30) scale(1.290 1.380)"><circle r="3.7" fill="#000"/></g>
<g transform="translate(100.20 832.10) scale(1.290 1.380)"><rect x="-3.65" y="-3.65" width="7.3" height="7.3" fill="none" stroke="#000" stroke-width="1.35" vector-effect="non-scaling-stroke"/></g>
<g transform="translate(160.82 773.71) scale(1.290 1.380)"><rect x="-3.65" y="-3.65" width="7.3" height="7.3" fill="none" stroke="#000" stroke-width="1.35" vector-effect="non-scaling-stroke"/></g>
<g transform="translate(221.44 769.53) scale(1.290 1.380)"><rect x="-3.65" y="-3.65" width="7.3" height="7.3" fill="none" stroke="#000" stroke-width="1.35" vector-effect="non-scaling-stroke"/></g>
<g transform="translate(282.06 823.76) scale(1.290 1.380)"><rect x="-3.65" y="-3.65" width="7.3" height="7.3" fill="none" stroke="#000" stroke-width="1.35" vector-effect="non-scaling-stroke"/></g>
<g transform="translate(342.68 857.13) scale(1.290 1.380)"><rect x="-3.65" y="-3.65" width="7.3" height="7.3" fill="none" stroke="#000" stroke-width="1.35" vector-effect="non-scaling-stroke"/></g>
<g transform="translate(403.30 857.13) scale(1.290 1.380)"><rect x="-3.65" y="-3.65" width="7.3" height="7.3" fill="none" stroke="#000" stroke-width="1.35" vector-effect="non-scaling-stroke"/></g>
<g transform="translate(463.92 873.81) scale(1.290 1.380)"><rect x="-3.65" y="-3.65" width="7.3" height="7.3" fill="none" stroke="#000" stroke-width="1.35" vector-effect="non-scaling-stroke"/></g>
<g transform="translate(524.54 890.49) scale(1.290 1.380)"><rect x="-3.65" y="-3.65" width="7.3" height="7.3" fill="none" stroke="#000" stroke-width="1.35" vector-effect="non-scaling-stroke"/></g>
<g transform="translate(100.20 832.10) scale(1.290 1.380)"><rect x="-3.5" y="-3.5" width="7" height="7" fill="#000"/></g>
<g transform="translate(160.82 782.05) scale(1.290 1.380)"><rect x="-3.5" y="-3.5" width="7" height="7" fill="#000"/></g>
<g transform="translate(221.44 777.88) scale(1.290 1.380)"><rect x="-3.5" y="-3.5" width="7" height="7" fill="#000"/></g>
<g transform="translate(282.06 798.73) scale(1.290 1.380)"><rect x="-3.5" y="-3.5" width="7" height="7" fill="#000"/></g>
<g transform="translate(342.68 827.93) scale(1.290 1.380)"><rect x="-3.5" y="-3.5" width="7" height="7" fill="#000"/></g>
<g transform="translate(403.30 840.44) scale(1.290 1.380)"><rect x="-3.5" y="-3.5" width="7" height="7" fill="#000"/></g>
<g transform="translate(100.20 832.10) scale(1.290 1.380)"><polygon points="0.00,-5.45 4.72,2.73 -4.72,2.73" fill="none" stroke="#000" stroke-width="1.35" vector-effect="non-scaling-stroke"/></g>
<g transform="translate(160.82 757.02) scale(1.290 1.380)"><polygon points="0.00,-5.45 4.72,2.73 -4.72,2.73" fill="none" stroke="#000" stroke-width="1.35" vector-effect="non-scaling-stroke"/></g>
<g transform="translate(221.44 611.04) scale(1.290 1.380)"><polygon points="0.00,-5.45 4.72,2.73 -4.72,2.73" fill="none" stroke="#000" stroke-width="1.35" vector-effect="non-scaling-stroke"/></g>
<g transform="translate(282.06 744.51) scale(1.290 1.380)"><polygon points="0.00,-5.45 4.72,2.73 -4.72,2.73" fill="none" stroke="#000" stroke-width="1.35" vector-effect="non-scaling-stroke"/></g>
<g transform="translate(342.68 777.88) scale(1.290 1.380)"><polygon points="0.00,-5.45 4.72,2.73 -4.72,2.73" fill="none" stroke="#000" stroke-width="1.35" vector-effect="non-scaling-stroke"/></g>
<g transform="translate(403.30 832.10) scale(1.290 1.380)"><polygon points="0.00,-5.45 4.72,2.73 -4.72,2.73" fill="none" stroke="#000" stroke-width="1.35" vector-effect="non-scaling-stroke"/></g>
<g transform="translate(463.92 832.10) scale(1.290 1.380)"><polygon points="0.00,-5.45 4.72,2.73 -4.72,2.73" fill="none" stroke="#000" stroke-width="1.35" vector-effect="non-scaling-stroke"/></g>
<g transform="translate(524.54 832.10) scale(1.290 1.380)"><polygon points="0.00,-5.45 4.72,2.73 -4.72,2.73" fill="none" stroke="#000" stroke-width="1.35" vector-effect="non-scaling-stroke"/></g>
<g transform="translate(100.20 832.10) scale(1.290 1.380)"><polygon points="0.00,5.45 4.72,-2.73 -4.72,-2.73" fill="none" stroke="#000" stroke-width="1.35" vector-effect="non-scaling-stroke"/></g>
<g transform="translate(160.82 815.42) scale(1.290 1.380)"><polygon points="0.00,5.45 4.72,-2.73 -4.72,-2.73" fill="none" stroke="#000" stroke-width="1.35" vector-effect="non-scaling-stroke"/></g>
<g transform="translate(221.44 786.22) scale(1.290 1.380)"><polygon points="0.00,5.45 4.72,-2.73 -4.72,-2.73" fill="none" stroke="#000" stroke-width="1.35" vector-effect="non-scaling-stroke"/></g>
<g transform="translate(282.06 773.71) scale(1.290 1.380)"><polygon points="0.00,5.45 4.72,-2.73 -4.72,-2.73" fill="none" stroke="#000" stroke-width="1.35" vector-effect="non-scaling-stroke"/></g>
<g transform="translate(342.68 777.88) scale(1.290 1.380)"><polygon points="0.00,5.45 4.72,-2.73 -4.72,-2.73" fill="none" stroke="#000" stroke-width="1.35" vector-effect="non-scaling-stroke"/></g>
<g transform="translate(403.30 706.97) scale(1.290 1.380)"><polygon points="0.00,5.45 4.72,-2.73 -4.72,-2.73" fill="none" stroke="#000" stroke-width="1.35" vector-effect="non-scaling-stroke"/></g>
<g transform="translate(463.92 815.42) scale(1.290 1.380)"><polygon points="0.00,5.45 4.72,-2.73 -4.72,-2.73" fill="none" stroke="#000" stroke-width="1.35" vector-effect="non-scaling-stroke"/></g>
<g transform="translate(524.54 836.27) scale(1.290 1.380)"><polygon points="0.00,5.45 4.72,-2.73 -4.72,-2.73" fill="none" stroke="#000" stroke-width="1.35" vector-effect="non-scaling-stroke"/></g>
<g transform="translate(100.20 832.10) scale(1.290 1.380)"><polygon points="0.00,-5.50 4.76,2.75 -4.76,2.75" fill="#000"/></g>
<g transform="translate(160.82 702.80) scale(1.290 1.380)"><polygon points="0.00,-5.50 4.76,2.75 -4.76,2.75" fill="#000"/></g>
<g transform="translate(221.44 661.09) scale(1.290 1.380)"><polygon points="0.00,-5.50 4.76,2.75 -4.76,2.75" fill="#000"/></g>
<g transform="translate(282.06 761.19) scale(1.290 1.380)"><polygon points="0.00,-5.50 4.76,2.75 -4.76,2.75" fill="#000"/></g>
<g transform="translate(342.68 790.39) scale(1.290 1.380)"><polygon points="0.00,-5.50 4.76,2.75 -4.76,2.75" fill="#000"/></g>
<g transform="translate(403.30 827.93) scale(1.290 1.380)"><polygon points="0.00,-5.50 4.76,2.75 -4.76,2.75" fill="#000"/></g>
<g transform="translate(100.20 832.10) scale(1.290 1.380)"><polygon points="0.00,5.45 4.72,-2.73 -4.72,-2.73" fill="none" stroke="#000" stroke-width="1.35" vector-effect="non-scaling-stroke"/></g>
<g transform="translate(160.82 673.60) scale(1.290 1.380)"><polygon points="0.00,5.45 4.72,-2.73 -4.72,-2.73" fill="none" stroke="#000" stroke-width="1.35" vector-effect="non-scaling-stroke"/></g>
<g transform="translate(221.44 636.06) scale(1.290 1.380)"><polygon points="0.00,5.45 4.72,-2.73 -4.72,-2.73" fill="none" stroke="#000" stroke-width="1.35" vector-effect="non-scaling-stroke"/></g>
<g transform="translate(282.06 736.17) scale(1.290 1.380)"><polygon points="0.00,5.45 4.72,-2.73 -4.72,-2.73" fill="none" stroke="#000" stroke-width="1.35" vector-effect="non-scaling-stroke"/></g>
<g transform="translate(342.68 777.88) scale(1.290 1.380)"><polygon points="0.00,5.45 4.72,-2.73 -4.72,-2.73" fill="none" stroke="#000" stroke-width="1.35" vector-effect="non-scaling-stroke"/></g>
<g transform="translate(403.30 823.76) scale(1.290 1.380)"><polygon points="0.00,5.45 4.72,-2.73 -4.72,-2.73" fill="none" stroke="#000" stroke-width="1.35" vector-effect="non-scaling-stroke"/></g>
<g transform="translate(463.92 836.27) scale(1.290 1.380)"><polygon points="0.00,5.45 4.72,-2.73 -4.72,-2.73" fill="none" stroke="#000" stroke-width="1.35" vector-effect="non-scaling-stroke"/></g>
<g transform="translate(524.54 827.93) scale(1.290 1.380)"><polygon points="0.00,5.45 4.72,-2.73 -4.72,-2.73" fill="none" stroke="#000" stroke-width="1.35" vector-effect="non-scaling-stroke"/></g>
<g transform="translate(100.20 832.10) scale(1.290 1.380)"><polygon points="0,-3.50 3.50,0 0,3.50 -3.50,0" fill="#000"/></g>
<g transform="translate(160.82 615.21) scale(1.290 1.380)"><polygon points="0,-3.50 3.50,0 0,3.50 -3.50,0" fill="#000"/></g>
<g transform="translate(221.44 527.62) scale(1.290 1.380)"><polygon points="0,-3.50 3.50,0 0,3.50 -3.50,0" fill="#000"/></g>
<g transform="translate(282.06 711.14) scale(1.290 1.380)"><polygon points="0,-3.50 3.50,0 0,3.50 -3.50,0" fill="#000"/></g>
<g transform="translate(342.68 769.53) scale(1.290 1.380)"><polygon points="0,-3.50 3.50,0 0,3.50 -3.50,0" fill="#000"/></g>
<g transform="translate(403.30 819.59) scale(1.290 1.380)"><polygon points="0,-3.50 3.50,0 0,3.50 -3.50,0" fill="#000"/></g>
<g transform="translate(463.92 823.76) scale(1.290 1.380)"><polygon points="0,-3.50 3.50,0 0,3.50 -3.50,0" fill="#000"/></g>
<g transform="translate(524.54 819.59) scale(1.290 1.380)"><polygon points="0,-3.50 3.50,0 0,3.50 -3.50,0" fill="#000"/></g>
<g transform="translate(100.20 832.10) scale(1.290 1.380)"><polygon points="0,-4.60 4.60,0 0,4.60 -4.60,0" fill="none" stroke="#000" stroke-width="1.35" vector-effect="non-scaling-stroke"/></g>
<g transform="translate(160.82 690.29) scale(1.290 1.380)"><polygon points="0,-4.60 4.60,0 0,4.60 -4.60,0" fill="none" stroke="#000" stroke-width="1.35" vector-effect="non-scaling-stroke"/></g>
<g transform="translate(221.44 627.72) scale(1.290 1.380)"><polygon points="0,-4.60 4.60,0 0,4.60 -4.60,0" fill="none" stroke="#000" stroke-width="1.35" vector-effect="non-scaling-stroke"/></g>
<g transform="translate(282.06 719.48) scale(1.290 1.380)"><polygon points="0,-4.60 4.60,0 0,4.60 -4.60,0" fill="none" stroke="#000" stroke-width="1.35" vector-effect="non-scaling-stroke"/></g>
<g transform="translate(342.68 748.68) scale(1.290 1.380)"><polygon points="0,-4.60 4.60,0 0,4.60 -4.60,0" fill="none" stroke="#000" stroke-width="1.35" vector-effect="non-scaling-stroke"/></g>
<g transform="translate(403.30 790.39) scale(1.290 1.380)"><polygon points="0,-4.60 4.60,0 0,4.60 -4.60,0" fill="none" stroke="#000" stroke-width="1.35" vector-effect="non-scaling-stroke"/></g>
<g transform="translate(463.92 798.73) scale(1.290 1.380)"><polygon points="0,-4.60 4.60,0 0,4.60 -4.60,0" fill="none" stroke="#000" stroke-width="1.35" vector-effect="non-scaling-stroke"/></g>
<g transform="translate(524.54 823.76) scale(1.290 1.380)"><polygon points="0,-4.60 4.60,0 0,4.60 -4.60,0" fill="none" stroke="#000" stroke-width="1.35" vector-effect="non-scaling-stroke"/></g>
<rect x="63.80" y="828.10" width="36.40" height="8.0" fill="rgb(236,83,26)" fill-opacity="0.365"/>
<rect x="100.20" y="828.10" width="121.24" height="8.0" fill="rgb(158,127,92)" fill-opacity="0.34"/>
<rect x="221.44" y="828.10" width="339.46" height="8.0" fill="rgb(236,83,26)" fill-opacity="0.365"/>
<clipPath id="clipB"><rect x="63.80" y="828.10" width="497.10" height="8.0"/></clipPath>
<g clip-path="url(#clipB)"><polyline points="100.20,832.10 160.82,815.42 221.44,811.25 282.06,827.93 342.68,832.10 403.30,832.10 463.92,832.10 524.54,832.10" fill="none" stroke="#4c1f1f" stroke-width="2.0" stroke-linejoin="round" stroke-dasharray="8 8"/>
<polyline points="100.20,832.10 160.82,798.73 221.44,802.90 282.06,836.27 342.68,840.44 403.30,844.61 463.92,857.13 524.54,861.30" fill="none" stroke="#4c1f1f" stroke-width="2.0" stroke-linejoin="round" stroke-dasharray="8 8"/>
<polyline points="100.20,832.10 160.82,773.71 221.44,769.53 282.06,823.76 342.68,857.13 403.30,857.13 463.92,873.81 524.54,890.49" fill="none" stroke="#4c1f1f" stroke-width="2.0" stroke-linejoin="round" stroke-dasharray="4 4 12 4"/>
<polyline points="100.20,832.10 160.82,782.05 221.44,777.88 282.06,798.73 342.68,827.93 403.30,840.44" fill="none" stroke="#4c1f1f" stroke-width="2.0" stroke-linejoin="round" stroke-dasharray="4 4 12 4"/>
<polyline points="100.20,832.10 160.82,757.02 221.44,611.04 282.06,744.51 342.68,777.88 403.30,832.10 463.92,832.10 524.54,832.10" fill="none" stroke="#4c1f1f" stroke-width="2.0" stroke-linejoin="round"/>
<polyline points="100.20,832.10 160.82,815.42 221.44,786.22 282.06,773.71 342.68,777.88 403.30,706.97 463.92,815.42 524.54,836.27" fill="none" stroke="#4c1f1f" stroke-width="2.0" stroke-linejoin="round"/>
<polyline points="100.20,832.10 160.82,702.80 221.44,661.09 282.06,761.19 342.68,790.39 403.30,827.93" fill="none" stroke="#4c1f1f" stroke-width="2.0" stroke-linejoin="round"/>
<polyline points="100.20,832.10 160.82,673.60 221.44,636.06 282.06,736.17 342.68,777.88 403.30,823.76 463.92,836.27 524.54,827.93" fill="none" stroke="#4c1f1f" stroke-width="2.0" stroke-linejoin="round"/>
<polyline points="100.20,832.10 160.82,615.21 221.44,527.62 282.06,711.14 342.68,769.53 403.30,819.59 463.92,823.76 524.54,819.59" fill="none" stroke="#4c1f1f" stroke-width="2.0" stroke-linejoin="round"/>
<polyline points="100.20,832.10 160.82,690.29 221.44,627.72 282.06,719.48 342.68,748.68 403.30,790.39 463.92,798.73 524.54,823.76" fill="none" stroke="#4c1f1f" stroke-width="2.0" stroke-linejoin="round"/>
<g transform="translate(100.20 832.10) scale(1.290 1.380)"><circle r="3.6" fill="none" stroke="#4c1f1f" stroke-width="1.35" vector-effect="non-scaling-stroke"/></g>
<g transform="translate(160.82 815.42) scale(1.290 1.380)"><circle r="3.6" fill="none" stroke="#4c1f1f" stroke-width="1.35" vector-effect="non-scaling-stroke"/></g>
<g transform="translate(221.44 811.25) scale(1.290 1.380)"><circle r="3.6" fill="none" stroke="#4c1f1f" stroke-width="1.35" vector-effect="non-scaling-stroke"/></g>
<g transform="translate(282.06 827.93) scale(1.290 1.380)"><circle r="3.6" fill="none" stroke="#4c1f1f" stroke-width="1.35" vector-effect="non-scaling-stroke"/></g>
<g transform="translate(342.68 832.10) scale(1.290 1.380)"><circle r="3.6" fill="none" stroke="#4c1f1f" stroke-width="1.35" vector-effect="non-scaling-stroke"/></g>
<g transform="translate(403.30 832.10) scale(1.290 1.380)"><circle r="3.6" fill="none" stroke="#4c1f1f" stroke-width="1.35" vector-effect="non-scaling-stroke"/></g>
<g transform="translate(463.92 832.10) scale(1.290 1.380)"><circle r="3.6" fill="none" stroke="#4c1f1f" stroke-width="1.35" vector-effect="non-scaling-stroke"/></g>
<g transform="translate(524.54 832.10) scale(1.290 1.380)"><circle r="3.6" fill="none" stroke="#4c1f1f" stroke-width="1.35" vector-effect="non-scaling-stroke"/></g>
<g transform="translate(100.20 832.10) scale(1.290 1.380)"><circle r="3.7" fill="#4c1f1f"/></g>
<g transform="translate(160.82 798.73) scale(1.290 1.380)"><circle r="3.7" fill="#4c1f1f"/></g>
<g transform="translate(221.44 802.90) scale(1.290 1.380)"><circle r="3.7" fill="#4c1f1f"/></g>
<g transform="translate(282.06 836.27) scale(1.290 1.380)"><circle r="3.7" fill="#4c1f1f"/></g>
<g transform="translate(342.68 840.44) scale(1.290 1.380)"><circle r="3.7" fill="#4c1f1f"/></g>
<g transform="translate(403.30 844.61) scale(1.290 1.380)"><circle r="3.7" fill="#4c1f1f"/></g>
<g transform="translate(463.92 857.13) scale(1.290 1.380)"><circle r="3.7" fill="#4c1f1f"/></g>
<g transform="translate(524.54 861.30) scale(1.290 1.380)"><circle r="3.7" fill="#4c1f1f"/></g>
<g transform="translate(100.20 832.10) scale(1.290 1.380)"><rect x="-3.65" y="-3.65" width="7.3" height="7.3" fill="none" stroke="#4c1f1f" stroke-width="1.35" vector-effect="non-scaling-stroke"/></g>
<g transform="translate(160.82 773.71) scale(1.290 1.380)"><rect x="-3.65" y="-3.65" width="7.3" height="7.3" fill="none" stroke="#4c1f1f" stroke-width="1.35" vector-effect="non-scaling-stroke"/></g>
<g transform="translate(221.44 769.53) scale(1.290 1.380)"><rect x="-3.65" y="-3.65" width="7.3" height="7.3" fill="none" stroke="#4c1f1f" stroke-width="1.35" vector-effect="non-scaling-stroke"/></g>
<g transform="translate(282.06 823.76) scale(1.290 1.380)"><rect x="-3.65" y="-3.65" width="7.3" height="7.3" fill="none" stroke="#4c1f1f" stroke-width="1.35" vector-effect="non-scaling-stroke"/></g>
<g transform="translate(342.68 857.13) scale(1.290 1.380)"><rect x="-3.65" y="-3.65" width="7.3" height="7.3" fill="none" stroke="#4c1f1f" stroke-width="1.35" vector-effect="non-scaling-stroke"/></g>
<g transform="translate(403.30 857.13) scale(1.290 1.380)"><rect x="-3.65" y="-3.65" width="7.3" height="7.3" fill="none" stroke="#4c1f1f" stroke-width="1.35" vector-effect="non-scaling-stroke"/></g>
<g transform="translate(463.92 873.81) scale(1.290 1.380)"><rect x="-3.65" y="-3.65" width="7.3" height="7.3" fill="none" stroke="#4c1f1f" stroke-width="1.35" vector-effect="non-scaling-stroke"/></g>
<g transform="translate(524.54 890.49) scale(1.290 1.380)"><rect x="-3.65" y="-3.65" width="7.3" height="7.3" fill="none" stroke="#4c1f1f" stroke-width="1.35" vector-effect="non-scaling-stroke"/></g>
<g transform="translate(100.20 832.10) scale(1.290 1.380)"><rect x="-3.5" y="-3.5" width="7" height="7" fill="#4c1f1f"/></g>
<g transform="translate(160.82 782.05) scale(1.290 1.380)"><rect x="-3.5" y="-3.5" width="7" height="7" fill="#4c1f1f"/></g>
<g transform="translate(221.44 777.88) scale(1.290 1.380)"><rect x="-3.5" y="-3.5" width="7" height="7" fill="#4c1f1f"/></g>
<g transform="translate(282.06 798.73) scale(1.290 1.380)"><rect x="-3.5" y="-3.5" width="7" height="7" fill="#4c1f1f"/></g>
<g transform="translate(342.68 827.93) scale(1.290 1.380)"><rect x="-3.5" y="-3.5" width="7" height="7" fill="#4c1f1f"/></g>
<g transform="translate(403.30 840.44) scale(1.290 1.380)"><rect x="-3.5" y="-3.5" width="7" height="7" fill="#4c1f1f"/></g>
<g transform="translate(100.20 832.10) scale(1.290 1.380)"><polygon points="0.00,-5.45 4.72,2.73 -4.72,2.73" fill="none" stroke="#4c1f1f" stroke-width="1.35" vector-effect="non-scaling-stroke"/></g>
<g transform="translate(160.82 757.02) scale(1.290 1.380)"><polygon points="0.00,-5.45 4.72,2.73 -4.72,2.73" fill="none" stroke="#4c1f1f" stroke-width="1.35" vector-effect="non-scaling-stroke"/></g>
<g transform="translate(221.44 611.04) scale(1.290 1.380)"><polygon points="0.00,-5.45 4.72,2.73 -4.72,2.73" fill="none" stroke="#4c1f1f" stroke-width="1.35" vector-effect="non-scaling-stroke"/></g>
<g transform="translate(282.06 744.51) scale(1.290 1.380)"><polygon points="0.00,-5.45 4.72,2.73 -4.72,2.73" fill="none" stroke="#4c1f1f" stroke-width="1.35" vector-effect="non-scaling-stroke"/></g>
<g transform="translate(342.68 777.88) scale(1.290 1.380)"><polygon points="0.00,-5.45 4.72,2.73 -4.72,2.73" fill="none" stroke="#4c1f1f" stroke-width="1.35" vector-effect="non-scaling-stroke"/></g>
<g transform="translate(403.30 832.10) scale(1.290 1.380)"><polygon points="0.00,-5.45 4.72,2.73 -4.72,2.73" fill="none" stroke="#4c1f1f" stroke-width="1.35" vector-effect="non-scaling-stroke"/></g>
<g transform="translate(463.92 832.10) scale(1.290 1.380)"><polygon points="0.00,-5.45 4.72,2.73 -4.72,2.73" fill="none" stroke="#4c1f1f" stroke-width="1.35" vector-effect="non-scaling-stroke"/></g>
<g transform="translate(524.54 832.10) scale(1.290 1.380)"><polygon points="0.00,-5.45 4.72,2.73 -4.72,2.73" fill="none" stroke="#4c1f1f" stroke-width="1.35" vector-effect="non-scaling-stroke"/></g>
<g transform="translate(100.20 832.10) scale(1.290 1.380)"><polygon points="0.00,5.45 4.72,-2.73 -4.72,-2.73" fill="none" stroke="#4c1f1f" stroke-width="1.35" vector-effect="non-scaling-stroke"/></g>
<g transform="translate(160.82 815.42) scale(1.290 1.380)"><polygon points="0.00,5.45 4.72,-2.73 -4.72,-2.73" fill="none" stroke="#4c1f1f" stroke-width="1.35" vector-effect="non-scaling-stroke"/></g>
<g transform="translate(221.44 786.22) scale(1.290 1.380)"><polygon points="0.00,5.45 4.72,-2.73 -4.72,-2.73" fill="none" stroke="#4c1f1f" stroke-width="1.35" vector-effect="non-scaling-stroke"/></g>
<g transform="translate(282.06 773.71) scale(1.290 1.380)"><polygon points="0.00,5.45 4.72,-2.73 -4.72,-2.73" fill="none" stroke="#4c1f1f" stroke-width="1.35" vector-effect="non-scaling-stroke"/></g>
<g transform="translate(342.68 777.88) scale(1.290 1.380)"><polygon points="0.00,5.45 4.72,-2.73 -4.72,-2.73" fill="none" stroke="#4c1f1f" stroke-width="1.35" vector-effect="non-scaling-stroke"/></g>
<g transform="translate(403.30 706.97) scale(1.290 1.380)"><polygon points="0.00,5.45 4.72,-2.73 -4.72,-2.73" fill="none" stroke="#4c1f1f" stroke-width="1.35" vector-effect="non-scaling-stroke"/></g>
<g transform="translate(463.92 815.42) scale(1.290 1.380)"><polygon points="0.00,5.45 4.72,-2.73 -4.72,-2.73" fill="none" stroke="#4c1f1f" stroke-width="1.35" vector-effect="non-scaling-stroke"/></g>
<g transform="translate(524.54 836.27) scale(1.290 1.380)"><polygon points="0.00,5.45 4.72,-2.73 -4.72,-2.73" fill="none" stroke="#4c1f1f" stroke-width="1.35" vector-effect="non-scaling-stroke"/></g>
<g transform="translate(100.20 832.10) scale(1.290 1.380)"><polygon points="0.00,-5.50 4.76,2.75 -4.76,2.75" fill="#4c1f1f"/></g>
<g transform="translate(160.82 702.80) scale(1.290 1.380)"><polygon points="0.00,-5.50 4.76,2.75 -4.76,2.75" fill="#4c1f1f"/></g>
<g transform="translate(221.44 661.09) scale(1.290 1.380)"><polygon points="0.00,-5.50 4.76,2.75 -4.76,2.75" fill="#4c1f1f"/></g>
<g transform="translate(282.06 761.19) scale(1.290 1.380)"><polygon points="0.00,-5.50 4.76,2.75 -4.76,2.75" fill="#4c1f1f"/></g>
<g transform="translate(342.68 790.39) scale(1.290 1.380)"><polygon points="0.00,-5.50 4.76,2.75 -4.76,2.75" fill="#4c1f1f"/></g>
<g transform="translate(403.30 827.93) scale(1.290 1.380)"><polygon points="0.00,-5.50 4.76,2.75 -4.76,2.75" fill="#4c1f1f"/></g>
<g transform="translate(100.20 832.10) scale(1.290 1.380)"><polygon points="0.00,5.45 4.72,-2.73 -4.72,-2.73" fill="none" stroke="#4c1f1f" stroke-width="1.35" vector-effect="non-scaling-stroke"/></g>
<g transform="translate(160.82 673.60) scale(1.290 1.380)"><polygon points="0.00,5.45 4.72,-2.73 -4.72,-2.73" fill="none" stroke="#4c1f1f" stroke-width="1.35" vector-effect="non-scaling-stroke"/></g>
<g transform="translate(221.44 636.06) scale(1.290 1.380)"><polygon points="0.00,5.45 4.72,-2.73 -4.72,-2.73" fill="none" stroke="#4c1f1f" stroke-width="1.35" vector-effect="non-scaling-stroke"/></g>
<g transform="translate(282.06 736.17) scale(1.290 1.380)"><polygon points="0.00,5.45 4.72,-2.73 -4.72,-2.73" fill="none" stroke="#4c1f1f" stroke-width="1.35" vector-effect="non-scaling-stroke"/></g>
<g transform="translate(342.68 777.88) scale(1.290 1.380)"><polygon points="0.00,5.45 4.72,-2.73 -4.72,-2.73" fill="none" stroke="#4c1f1f" stroke-width="1.35" vector-effect="non-scaling-stroke"/></g>
<g transform="translate(403.30 823.76) scale(1.290 1.380)"><polygon points="0.00,5.45 4.72,-2.73 -4.72,-2.73" fill="none" stroke="#4c1f1f" stroke-width="1.35" vector-effect="non-scaling-stroke"/></g>
<g transform="translate(463.92 836.27) scale(1.290 1.380)"><polygon points="0.00,5.45 4.72,-2.73 -4.72,-2.73" fill="none" stroke="#4c1f1f" stroke-width="1.35" vector-effect="non-scaling-stroke"/></g>
<g transform="translate(524.54 827.93) scale(1.290 1.380)"><polygon points="0.00,5.45 4.72,-2.73 -4.72,-2.73" fill="none" stroke="#4c1f1f" stroke-width="1.35" vector-effect="non-scaling-stroke"/></g>
<g transform="translate(100.20 832.10) scale(1.290 1.380)"><polygon points="0,-3.50 3.50,0 0,3.50 -3.50,0" fill="#4c1f1f"/></g>
<g transform="translate(160.82 615.21) scale(1.290 1.380)"><polygon points="0,-3.50 3.50,0 0,3.50 -3.50,0" fill="#4c1f1f"/></g>
<g transform="translate(221.44 527.62) scale(1.290 1.380)"><polygon points="0,-3.50 3.50,0 0,3.50 -3.50,0" fill="#4c1f1f"/></g>
<g transform="translate(282.06 711.14) scale(1.290 1.380)"><polygon points="0,-3.50 3.50,0 0,3.50 -3.50,0" fill="#4c1f1f"/></g>
<g transform="translate(342.68 769.53) scale(1.290 1.380)"><polygon points="0,-3.50 3.50,0 0,3.50 -3.50,0" fill="#4c1f1f"/></g>
<g transform="translate(403.30 819.59) scale(1.290 1.380)"><polygon points="0,-3.50 3.50,0 0,3.50 -3.50,0" fill="#4c1f1f"/></g>
<g transform="translate(463.92 823.76) scale(1.290 1.380)"><polygon points="0,-3.50 3.50,0 0,3.50 -3.50,0" fill="#4c1f1f"/></g>
<g transform="translate(524.54 819.59) scale(1.290 1.380)"><polygon points="0,-3.50 3.50,0 0,3.50 -3.50,0" fill="#4c1f1f"/></g>
<g transform="translate(100.20 832.10) scale(1.290 1.380)"><polygon points="0,-4.60 4.60,0 0,4.60 -4.60,0" fill="none" stroke="#4c1f1f" stroke-width="1.35" vector-effect="non-scaling-stroke"/></g>
<g transform="translate(160.82 690.29) scale(1.290 1.380)"><polygon points="0,-4.60 4.60,0 0,4.60 -4.60,0" fill="none" stroke="#4c1f1f" stroke-width="1.35" vector-effect="non-scaling-stroke"/></g>
<g transform="translate(221.44 627.72) scale(1.290 1.380)"><polygon points="0,-4.60 4.60,0 0,4.60 -4.60,0" fill="none" stroke="#4c1f1f" stroke-width="1.35" vector-effect="non-scaling-stroke"/></g>
<g transform="translate(282.06 719.48) scale(1.290 1.380)"><polygon points="0,-4.60 4.60,0 0,4.60 -4.60,0" fill="none" stroke="#4c1f1f" stroke-width="1.35" vector-effect="non-scaling-stroke"/></g>
<g transform="translate(342.68 748.68) scale(1.290 1.380)"><polygon points="0,-4.60 4.60,0 0,4.60 -4.60,0" fill="none" stroke="#4c1f1f" stroke-width="1.35" vector-effect="non-scaling-stroke"/></g>
<g transform="translate(403.30 790.39) scale(1.290 1.380)"><polygon points="0,-4.60 4.60,0 0,4.60 -4.60,0" fill="none" stroke="#4c1f1f" stroke-width="1.35" vector-effect="non-scaling-stroke"/></g>
<g transform="translate(463.92 798.73) scale(1.290 1.380)"><polygon points="0,-4.60 4.60,0 0,4.60 -4.60,0" fill="none" stroke="#4c1f1f" stroke-width="1.35" vector-effect="non-scaling-stroke"/></g>
<g transform="translate(524.54 823.76) scale(1.290 1.380)"><polygon points="0,-4.60 4.60,0 0,4.60 -4.60,0" fill="none" stroke="#4c1f1f" stroke-width="1.35" vector-effect="non-scaling-stroke"/></g></g>
<path d="M63.80 509.40V908.60H560.90" fill="none" stroke="#000" stroke-width="2" stroke-linejoin="round"/>
<path d="M61.00 832.10H63.8" stroke="#333" stroke-width="1.4"/>
<text x="0" y="0" transform="translate(57.90 836.40) scale(0.9000 1)" fill="#4d4d4d" style="font-size:15.0px;" text-anchor="end">0</text>
<path d="M61.00 727.83H63.8" stroke="#333" stroke-width="1.4"/>
<text x="0" y="0" transform="translate(57.90 732.12) scale(0.9000 1)" fill="#4d4d4d" style="font-size:15.0px;" text-anchor="end">25</text>
<path d="M61.00 623.55H63.8" stroke="#333" stroke-width="1.4"/>
<text x="0" y="0" transform="translate(57.90 627.85) scale(0.9000 1)" fill="#4d4d4d" style="font-size:15.0px;" text-anchor="end">50</text>
<path d="M61.00 519.27H63.8" stroke="#333" stroke-width="1.4"/>
<text x="0" y="0" transform="translate(57.90 523.57) scale(0.9000 1)" fill="#4d4d4d" style="font-size:15.0px;" text-anchor="end">75</text>
<path d="M100.20 908.6V911.40" stroke="#333" stroke-width="1.4"/>
<text x="0" y="0" transform="translate(98.80 923.90) scale(0.8600 1)" fill="#4d4d4d" style="font-size:15.0px;" text-anchor="middle">T0</text>
<path d="M160.82 908.6V911.40" stroke="#333" stroke-width="1.4"/>
<text x="0" y="0" transform="translate(159.42 923.90) scale(0.8600 1)" fill="#4d4d4d" style="font-size:15.0px;" text-anchor="middle">T3</text>
<path d="M221.44 908.6V911.40" stroke="#333" stroke-width="1.4"/>
<text x="0" y="0" transform="translate(220.04 923.90) scale(0.8600 1)" fill="#4d4d4d" style="font-size:15.0px;" text-anchor="middle">T6</text>
<path d="M282.06 908.6V911.40" stroke="#333" stroke-width="1.4"/>
<text x="0" y="0" transform="translate(280.66 923.90) scale(0.8600 1)" fill="#4d4d4d" style="font-size:15.0px;" text-anchor="middle">T8</text>
<path d="M342.68 908.6V911.40" stroke="#333" stroke-width="1.4"/>
<text x="0" y="0" transform="translate(341.28 923.90) scale(0.8600 1)" fill="#4d4d4d" style="font-size:15.0px;" text-anchor="middle">T10</text>
<path d="M403.30 908.6V911.40" stroke="#333" stroke-width="1.4"/>
<text x="0" y="0" transform="translate(401.90 923.90) scale(0.8600 1)" fill="#4d4d4d" style="font-size:15.0px;" text-anchor="middle">T24</text>
<path d="M463.92 908.6V911.40" stroke="#333" stroke-width="1.4"/>
<text x="0" y="0" transform="translate(462.52 923.90) scale(0.8600 1)" fill="#4d4d4d" style="font-size:15.0px;" text-anchor="middle">T48</text>
<path d="M524.54 908.6V911.40" stroke="#333" stroke-width="1.4"/>
<text x="0" y="0" transform="translate(523.14 923.90) scale(0.8600 1)" fill="#4d4d4d" style="font-size:15.0px;" text-anchor="middle">T72</text>
<text x="0" y="0" transform="translate(288.30 941.40) scale(0.9105 1)" fill="#000" style="font-size:16.2px;">Timepoints</text>
<text x="0" y="0" transform="translate(23.20 888.80) rotate(-90)" fill="#000" style="font-size:21.0px;">aPTT change from baseline (seconds)</text>
<text x="0" y="0" transform="translate(63.80 498.50) scale(0.9120 1)" fill="#000" style="font-size:22.9px;">Absolute aPTT change over time (s) per patient per dose level</text>
<text x="0" y="0" transform="translate(2.20 506.90) scale(1 1.000)" fill="#000" style="font-size:37.4px;">B</text>
<text x="0" y="0" transform="translate(595.30 559.30)" fill="#000" style="font-size:14.2px;font-style:italic;">Patient</text>
<g transform="translate(603.30 574.90)"><circle r="3.6" fill="none" stroke="#000" stroke-width="1.2" vector-effect="non-scaling-stroke"/></g>
<text x="0" y="0" transform="translate(617.30 578.10)" fill="#000" style="font-size:12.47px;">AMC002</text>
<g transform="translate(603.30 591.57)"><circle r="3.7" fill="#000"/></g>
<text x="0" y="0" transform="translate(617.30 594.77)" fill="#000" style="font-size:12.47px;">AMC003</text>
<g transform="translate(603.30 608.24)"><rect x="-3.65" y="-3.65" width="7.3" height="7.3" fill="none" stroke="#000" stroke-width="1.2" vector-effect="non-scaling-stroke"/></g>
<text x="0" y="0" transform="translate(617.30 611.44)" fill="#000" style="font-size:12.47px;">AMC004</text>
<g transform="translate(603.30 624.91)"><rect x="-3.5" y="-3.5" width="7" height="7" fill="#000"/></g>
<text x="0" y="0" transform="translate(617.30 628.11)" fill="#000" style="font-size:12.47px;">AMC005</text>
<g transform="translate(603.30 641.58)"><polygon points="0.00,-5.45 4.72,2.73 -4.72,2.73" fill="none" stroke="#000" stroke-width="1.2" vector-effect="non-scaling-stroke"/></g>
<text x="0" y="0" transform="translate(617.30 644.78)" fill="#000" style="font-size:12.47px;">AMC006</text>
<g transform="translate(603.30 658.25)"><polygon points="0.00,5.45 4.72,-2.73 -4.72,-2.73" fill="none" stroke="#000" stroke-width="1.2" vector-effect="non-scaling-stroke"/></g>
<text x="0" y="0" transform="translate(617.30 661.45)" fill="#000" style="font-size:12.47px;">AMC007</text>
<g transform="translate(603.30 674.92)"><polygon points="0.00,-5.50 4.76,2.75 -4.76,2.75" fill="#000"/></g>
<text x="0" y="0" transform="translate(617.30 678.12)" fill="#000" style="font-size:12.47px;">AMC008</text>
<g transform="translate(603.30 691.59)"><polygon points="0,-5.10 5.10,0 0,5.10 -5.10,0" fill="none" stroke="#000" stroke-width="1.2" vector-effect="non-scaling-stroke"/><path d="M0 -5.10V5.10M-5.10 0H5.10" fill="none" stroke="#000" stroke-width="1.2" vector-effect="non-scaling-stroke"/></g>
<text x="0" y="0" transform="translate(617.30 694.79)" fill="#000" style="font-size:12.47px;">AMC009</text>
<g transform="translate(603.30 708.26)"><polygon points="0,-3.50 3.50,0 0,3.50 -3.50,0" fill="#000"/></g>
<text x="0" y="0" transform="translate(617.30 711.46)" fill="#000" style="font-size:12.47px;">AMC010</text>
<g transform="translate(603.30 724.93)"><polygon points="0,-4.60 4.60,0 0,4.60 -4.60,0" fill="none" stroke="#000" stroke-width="1.2" vector-effect="non-scaling-stroke"/></g>
<text x="0" y="0" transform="translate(617.30 728.13)" fill="#000" style="font-size:12.47px;">AMC011</text>
<text x="0" y="0" transform="translate(595.40 759.70)" fill="#000" style="font-size:14.2px;font-style:italic;">Dose level</text>
<path d="M596.30 775.00H610.10" stroke="#000" stroke-width="2.0" stroke-dasharray="2 6"/>
<text x="0" y="0" transform="translate(616.90 778.20)" fill="#000" style="font-size:12.47px;">Dose level 1</text>
<path d="M596.30 791.67H610.10" stroke="#000" stroke-width="2.0" stroke-dasharray="4 4 12 4"/>
<text x="0" y="0" transform="translate(616.90 794.87)" fill="#000" style="font-size:12.47px;">Dose level 2</text>
<path d="M596.30 808.34H610.10" stroke="#000" stroke-width="2.0"/>
<text x="0" y="0" transform="translate(616.90 811.54)" fill="#000" style="font-size:12.47px;">Dose level 3</text>
<rect x="100.30" y="978.40" width="119.54" height="399.10" fill="#948f9e"/>
<polyline points="100.30,1311.40 160.07,1288.12 219.84,1282.30 279.61,1305.58 339.38,1311.40 399.15,1311.40 458.92,1311.40 518.69,1311.40" fill="none" stroke="#000" stroke-width="2.0" stroke-linejoin="round" stroke-dasharray="8 8"/>
<polyline points="100.30,1311.40 160.07,1280.36 219.84,1284.24 279.61,1315.28 339.38,1319.16 399.15,1323.04 458.92,1334.68 518.69,1338.56" fill="none" stroke="#000" stroke-width="2.0" stroke-linejoin="round" stroke-dasharray="8 8"/>
<polyline points="100.30,1311.40 160.07,1263.47 219.84,1260.04 279.61,1304.55 339.38,1331.94 399.15,1331.94 458.92,1345.64 518.69,1359.33" fill="none" stroke="#000" stroke-width="2.0" stroke-linejoin="round" stroke-dasharray="4 4 12 4"/>
<polyline points="100.30,1311.40 160.07,1259.66 219.84,1255.35 279.61,1276.91 339.38,1307.09 399.15,1320.02" fill="none" stroke="#000" stroke-width="2.0" stroke-linejoin="round" stroke-dasharray="4 4 12 4"/>
<polyline points="100.30,1311.40 160.07,1206.63 219.84,1002.91 279.61,1189.17 339.38,1235.73 399.15,1311.40 458.92,1311.40 518.69,1311.40" fill="none" stroke="#000" stroke-width="2.0" stroke-linejoin="round"/>
<polyline points="100.30,1311.40 160.07,1297.29 219.84,1272.60 279.61,1262.01 339.38,1265.54 399.15,1205.57 458.92,1297.29 518.69,1314.93" fill="none" stroke="#000" stroke-width="2.0" stroke-linejoin="round"/>
<polyline points="100.30,1311.40 160.07,1130.96 219.84,1072.76 279.61,1212.45 339.38,1253.20 399.15,1305.58" fill="none" stroke="#000" stroke-width="2.0" stroke-linejoin="round"/>
<polyline points="100.30,1311.40 160.07,1119.07 219.84,1073.52 279.61,1194.99 339.38,1245.60 399.15,1301.28 458.92,1316.46 518.69,1306.34" fill="none" stroke="#000" stroke-width="2.0" stroke-linejoin="round"/>
<polyline points="100.30,1311.40 160.07,1087.20 219.84,996.66 279.61,1186.37 339.38,1246.73 399.15,1298.47 458.92,1302.78 518.69,1298.47" fill="none" stroke="#000" stroke-width="2.0" stroke-linejoin="round"/>
<polyline points="100.30,1311.40 160.07,1113.50 219.84,1026.20 279.61,1154.25 339.38,1194.99 399.15,1253.20 458.92,1264.84 518.69,1299.76" fill="none" stroke="#000" stroke-width="2.0" stroke-linejoin="round"/>
<g transform="translate(100.30 1311.40) scale(1.320 1.420)"><circle r="3.6" fill="none" stroke="#000" stroke-width="1.35" vector-effect="non-scaling-stroke"/></g>
<g transform="translate(160.07 1288.12) scale(1.320 1.420)"><circle r="3.6" fill="none" stroke="#000" stroke-width="1.35" vector-effect="non-scaling-stroke"/></g>
<g transform="translate(219.84 1282.30) scale(1.320 1.420)"><circle r="3.6" fill="none" stroke="#000" stroke-width="1.35" vector-effect="non-scaling-stroke"/></g>
<g transform="translate(279.61 1305.58) scale(1.320 1.420)"><circle r="3.6" fill="none" stroke="#000" stroke-width="1.35" vector-effect="non-scaling-stroke"/></g>
<g transform="translate(339.38 1311.40) scale(1.320 1.420)"><circle r="3.6" fill="none" stroke="#000" stroke-width="1.35" vector-effect="non-scaling-stroke"/></g>
<g transform="translate(399.15 1311.40) scale(1.320 1.420)"><circle r="3.6" fill="none" stroke="#000" stroke-width="1.35" vector-effect="non-scaling-stroke"/></g>
<g transform="translate(458.92 1311.40) scale(1.320 1.420)"><circle r="3.6" fill="none" stroke="#000" stroke-width="1.35" vector-effect="non-scaling-stroke"/></g>
<g transform="translate(518.69 1311.40) scale(1.320 1.420)"><circle r="3.6" fill="none" stroke="#000" stroke-width="1.35" vector-effect="non-scaling-stroke"/></g>
<g transform="translate(100.30 1311.40) scale(1.320 1.420)"><circle r="3.7" fill="#000"/></g>
<g transform="translate(160.07 1280.36) scale(1.320 1.420)"><circle r="3.7" fill="#000"/></g>
<g transform="translate(219.84 1284.24) scale(1.320 1.420)"><circle r="3.7" fill="#000"/></g>
<g transform="translate(279.61 1315.28) scale(1.320 1.420)"><circle r="3.7" fill="#000"/></g>
<g transform="translate(339.38 1319.16) scale(1.320 1.420)"><circle r="3.7" fill="#000"/></g>
<g transform="translate(399.15 1323.04) scale(1.320 1.420)"><circle r="3.7" fill="#000"/></g>
<g transform="translate(458.92 1334.68) scale(1.320 1.420)"><circle r="3.7" fill="#000"/></g>
<g transform="translate(518.69 1338.56) scale(1.320 1.420)"><circle r="3.7" fill="#000"/></g>
<g transform="translate(100.30 1311.40) scale(1.320 1.420)"><rect x="-3.65" y="-3.65" width="7.3" height="7.3" fill="none" stroke="#000" stroke-width="1.35" vector-effect="non-scaling-stroke"/></g>
<g transform="translate(160.07 1263.47) scale(1.320 1.420)"><rect x="-3.65" y="-3.65" width="7.3" height="7.3" fill="none" stroke="#000" stroke-width="1.35" vector-effect="non-scaling-stroke"/></g>
<g transform="translate(219.84 1260.04) scale(1.320 1.420)"><rect x="-3.65" y="-3.65" width="7.3" height="7.3" fill="none" stroke="#000" stroke-width="1.35" vector-effect="non-scaling-stroke"/></g>
<g transform="translate(279.61 1304.55) scale(1.320 1.420)"><rect x="-3.65" y="-3.65" width="7.3" height="7.3" fill="none" stroke="#000" stroke-width="1.35" vector-effect="non-scaling-stroke"/></g>
<g transform="translate(339.38 1331.94) scale(1.320 1.420)"><rect x="-3.65" y="-3.65" width="7.3" height="7.3" fill="none" stroke="#000" stroke-width="1.35" vector-effect="non-scaling-stroke"/></g>
<g transform="translate(399.15 1331.94) scale(1.320 1.420)"><rect x="-3.65" y="-3.65" width="7.3" height="7.3" fill="none" stroke="#000" stroke-width="1.35" vector-effect="non-scaling-stroke"/></g>
<g transform="translate(458.92 1345.64) scale(1.320 1.420)"><rect x="-3.65" y="-3.65" width="7.3" height="7.3" fill="none" stroke="#000" stroke-width="1.35" vector-effect="non-scaling-stroke"/></g>
<g transform="translate(518.69 1359.33) scale(1.320 1.420)"><rect x="-3.65" y="-3.65" width="7.3" height="7.3" fill="none" stroke="#000" stroke-width="1.35" vector-effect="non-scaling-stroke"/></g>
<g transform="translate(100.30 1311.40) scale(1.320 1.420)"><rect x="-3.5" y="-3.5" width="7" height="7" fill="#000"/></g>
<g transform="translate(160.07 1259.66) scale(1.320 1.420)"><rect x="-3.5" y="-3.5" width="7" height="7" fill="#000"/></g>
<g transform="translate(219.84 1255.35) scale(1.320 1.420)"><rect x="-3.5" y="-3.5" width="7" height="7" fill="#000"/></g>
<g transform="translate(279.61 1276.91) scale(1.320 1.420)"><rect x="-3.5" y="-3.5" width="7" height="7" fill="#000"/></g>
<g transform="translate(339.38 1307.09) scale(1.320 1.420)"><rect x="-3.5" y="-3.5" width="7" height="7" fill="#000"/></g>
<g transform="translate(399.15 1320.02) scale(1.320 1.420)"><rect x="-3.5" y="-3.5" width="7" height="7" fill="#000"/></g>
<g transform="translate(100.30 1311.40) scale(1.320 1.420)"><polygon points="0.00,-5.45 4.72,2.73 -4.72,2.73" fill="none" stroke="#000" stroke-width="1.35" vector-effect="non-scaling-stroke"/></g>
<g transform="translate(160.07 1206.63) scale(1.320 1.420)"><polygon points="0.00,-5.45 4.72,2.73 -4.72,2.73" fill="none" stroke="#000" stroke-width="1.35" vector-effect="non-scaling-stroke"/></g>
<g transform="translate(219.84 1002.91) scale(1.320 1.420)"><polygon points="0.00,-5.45 4.72,2.73 -4.72,2.73" fill="none" stroke="#000" stroke-width="1.35" vector-effect="non-scaling-stroke"/></g>
<g transform="translate(279.61 1189.17) scale(1.320 1.420)"><polygon points="0.00,-5.45 4.72,2.73 -4.72,2.73" fill="none" stroke="#000" stroke-width="1.35" vector-effect="non-scaling-stroke"/></g>
<g transform="translate(339.38 1235.73) scale(1.320 1.420)"><polygon points="0.00,-5.45 4.72,2.73 -4.72,2.73" fill="none" stroke="#000" stroke-width="1.35" vector-effect="non-scaling-stroke"/></g>
<g transform="translate(399.15 1311.40) scale(1.320 1.420)"><polygon points="0.00,-5.45 4.72,2.73 -4.72,2.73" fill="none" stroke="#000" stroke-width="1.35" vector-effect="non-scaling-stroke"/></g>
<g transform="translate(458.92 1311.40) scale(1.320 1.420)"><polygon points="0.00,-5.45 4.72,2.73 -4.72,2.73" fill="none" stroke="#000" stroke-width="1.35" vector-effect="non-scaling-stroke"/></g>
<g transform="translate(518.69 1311.40) scale(1.320 1.420)"><polygon points="0.00,-5.45 4.72,2.73 -4.72,2.73" fill="none" stroke="#000" stroke-width="1.35" vector-effect="non-scaling-stroke"/></g>
<g transform="translate(100.30 1311.40) scale(1.320 1.420)"><polygon points="0.00,5.45 4.72,-2.73 -4.72,-2.73" fill="none" stroke="#000" stroke-width="1.35" vector-effect="non-scaling-stroke"/></g>
<g transform="translate(160.07 1297.29) scale(1.320 1.420)"><polygon points="0.00,5.45 4.72,-2.73 -4.72,-2.73" fill="none" stroke="#000" stroke-width="1.35" vector-effect="non-scaling-stroke"/></g>
<g transform="translate(219.84 1272.60) scale(1.320 1.420)"><polygon points="0.00,5.45 4.72,-2.73 -4.72,-2.73" fill="none" stroke="#000" stroke-width="1.35" vector-effect="non-scaling-stroke"/></g>
<g transform="translate(279.61 1262.01) scale(1.320 1.420)"><polygon points="0.00,5.45 4.72,-2.73 -4.72,-2.73" fill="none" stroke="#000" stroke-width="1.35" vector-effect="non-scaling-stroke"/></g>
<g transform="translate(339.38 1265.54) scale(1.320 1.420)"><polygon points="0.00,5.45 4.72,-2.73 -4.72,-2.73" fill="none" stroke="#000" stroke-width="1.35" vector-effect="non-scaling-stroke"/></g>
<g transform="translate(399.15 1205.57) scale(1.320 1.420)"><polygon points="0.00,5.45 4.72,-2.73 -4.72,-2.73" fill="none" stroke="#000" stroke-width="1.35" vector-effect="non-scaling-stroke"/></g>
<g transform="translate(458.92 1297.29) scale(1.320 1.420)"><polygon points="0.00,5.45 4.72,-2.73 -4.72,-2.73" fill="none" stroke="#000" stroke-width="1.35" vector-effect="non-scaling-stroke"/></g>
<g transform="translate(518.69 1314.93) scale(1.320 1.420)"><polygon points="0.00,5.45 4.72,-2.73 -4.72,-2.73" fill="none" stroke="#000" stroke-width="1.35" vector-effect="non-scaling-stroke"/></g>
<g transform="translate(100.30 1311.40) scale(1.320 1.420)"><polygon points="0.00,-5.50 4.76,2.75 -4.76,2.75" fill="#000"/></g>
<g transform="translate(160.07 1130.96) scale(1.320 1.420)"><polygon points="0.00,-5.50 4.76,2.75 -4.76,2.75" fill="#000"/></g>
<g transform="translate(219.84 1072.76) scale(1.320 1.420)"><polygon points="0.00,-5.50 4.76,2.75 -4.76,2.75" fill="#000"/></g>
<g transform="translate(279.61 1212.45) scale(1.320 1.420)"><polygon points="0.00,-5.50 4.76,2.75 -4.76,2.75" fill="#000"/></g>
<g transform="translate(339.38 1253.20) scale(1.320 1.420)"><polygon points="0.00,-5.50 4.76,2.75 -4.76,2.75" fill="#000"/></g>
<g transform="translate(399.15 1305.58) scale(1.320 1.420)"><polygon points="0.00,-5.50 4.76,2.75 -4.76,2.75" fill="#000"/></g>
<g transform="translate(100.30 1311.40) scale(1.320 1.420)"><polygon points="0.00,5.45 4.72,-2.73 -4.72,-2.73" fill="none" stroke="#000" stroke-width="1.35" vector-effect="non-scaling-stroke"/></g>
<g transform="translate(160.07 1119.07) scale(1.320 1.420)"><polygon points="0.00,5.45 4.72,-2.73 -4.72,-2.73" fill="none" stroke="#000" stroke-width="1.35" vector-effect="non-scaling-stroke"/></g>
<g transform="translate(219.84 1073.52) scale(1.320 1.420)"><polygon points="0.00,5.45 4.72,-2.73 -4.72,-2.73" fill="none" stroke="#000" stroke-width="1.35" vector-effect="non-scaling-stroke"/></g>
<g transform="translate(279.61 1194.99) scale(1.320 1.420)"><polygon points="0.00,5.45 4.72,-2.73 -4.72,-2.73" fill="none" stroke="#000" stroke-width="1.35" vector-effect="non-scaling-stroke"/></g>
<g transform="translate(339.38 1245.60) scale(1.320 1.420)"><polygon points="0.00,5.45 4.72,-2.73 -4.72,-2.73" fill="none" stroke="#000" stroke-width="1.35" vector-effect="non-scaling-stroke"/></g>
<g transform="translate(399.15 1301.28) scale(1.320 1.420)"><polygon points="0.00,5.45 4.72,-2.73 -4.72,-2.73" fill="none" stroke="#000" stroke-width="1.35" vector-effect="non-scaling-stroke"/></g>
<g transform="translate(458.92 1316.46) scale(1.320 1.420)"><polygon points="0.00,5.45 4.72,-2.73 -4.72,-2.73" fill="none" stroke="#000" stroke-width="1.35" vector-effect="non-scaling-stroke"/></g>
<g transform="translate(518.69 1306.34) scale(1.320 1.420)"><polygon points="0.00,5.45 4.72,-2.73 -4.72,-2.73" fill="none" stroke="#000" stroke-width="1.35" vector-effect="non-scaling-stroke"/></g>
<g transform="translate(100.30 1311.40) scale(1.320 1.420)"><polygon points="0,-3.50 3.50,0 0,3.50 -3.50,0" fill="#000"/></g>
<g transform="translate(160.07 1087.20) scale(1.320 1.420)"><polygon points="0,-3.50 3.50,0 0,3.50 -3.50,0" fill="#000"/></g>
<g transform="translate(219.84 996.66) scale(1.320 1.420)"><polygon points="0,-3.50 3.50,0 0,3.50 -3.50,0" fill="#000"/></g>
<g transform="translate(279.61 1186.37) scale(1.320 1.420)"><polygon points="0,-3.50 3.50,0 0,3.50 -3.50,0" fill="#000"/></g>
<g transform="translate(339.38 1246.73) scale(1.320 1.420)"><polygon points="0,-3.50 3.50,0 0,3.50 -3.50,0" fill="#000"/></g>
<g transform="translate(399.15 1298.47) scale(1.320 1.420)"><polygon points="0,-3.50 3.50,0 0,3.50 -3.50,0" fill="#000"/></g>
<g transform="translate(458.92 1302.78) scale(1.320 1.420)"><polygon points="0,-3.50 3.50,0 0,3.50 -3.50,0" fill="#000"/></g>
<g transform="translate(518.69 1298.47) scale(1.320 1.420)"><polygon points="0,-3.50 3.50,0 0,3.50 -3.50,0" fill="#000"/></g>
<g transform="translate(100.30 1311.40) scale(1.320 1.420)"><polygon points="0,-4.60 4.60,0 0,4.60 -4.60,0" fill="none" stroke="#000" stroke-width="1.35" vector-effect="non-scaling-stroke"/></g>
<g transform="translate(160.07 1113.50) scale(1.320 1.420)"><polygon points="0,-4.60 4.60,0 0,4.60 -4.60,0" fill="none" stroke="#000" stroke-width="1.35" vector-effect="non-scaling-stroke"/></g>
<g transform="translate(219.84 1026.20) scale(1.320 1.420)"><polygon points="0,-4.60 4.60,0 0,4.60 -4.60,0" fill="none" stroke="#000" stroke-width="1.35" vector-effect="non-scaling-stroke"/></g>
<g transform="translate(279.61 1154.25) scale(1.320 1.420)"><polygon points="0,-4.60 4.60,0 0,4.60 -4.60,0" fill="none" stroke="#000" stroke-width="1.35" vector-effect="non-scaling-stroke"/></g>
<g transform="translate(339.38 1194.99) scale(1.320 1.420)"><polygon points="0,-4.60 4.60,0 0,4.60 -4.60,0" fill="none" stroke="#000" stroke-width="1.35" vector-effect="non-scaling-stroke"/></g>
<g transform="translate(399.15 1253.20) scale(1.320 1.420)"><polygon points="0,-4.60 4.60,0 0,4.60 -4.60,0" fill="none" stroke="#000" stroke-width="1.35" vector-effect="non-scaling-stroke"/></g>
<g transform="translate(458.92 1264.84) scale(1.320 1.420)"><polygon points="0,-4.60 4.60,0 0,4.60 -4.60,0" fill="none" stroke="#000" stroke-width="1.35" vector-effect="non-scaling-stroke"/></g>
<g transform="translate(518.69 1299.76) scale(1.320 1.420)"><polygon points="0,-4.60 4.60,0 0,4.60 -4.60,0" fill="none" stroke="#000" stroke-width="1.35" vector-effect="non-scaling-stroke"/></g>
<rect x="64.40" y="1307.40" width="35.90" height="8.0" fill="rgb(236,83,26)" fill-opacity="0.365"/>
<rect x="100.30" y="1307.40" width="119.54" height="8.0" fill="rgb(158,127,92)" fill-opacity="0.34"/>
<rect x="219.84" y="1307.40" width="334.66" height="8.0" fill="rgb(236,83,26)" fill-opacity="0.365"/>
<clipPath id="clipC"><rect x="64.40" y="1307.40" width="490.10" height="8.0"/></clipPath>
<g clip-path="url(#clipC)"><polyline points="100.30,1311.40 160.07,1288.12 219.84,1282.30 279.61,1305.58 339.38,1311.40 399.15,1311.40 458.92,1311.40 518.69,1311.40" fill="none" stroke="#4c1f1f" stroke-width="2.0" stroke-linejoin="round" stroke-dasharray="8 8"/>
<polyline points="100.30,1311.40 160.07,1280.36 219.84,1284.24 279.61,1315.28 339.38,1319.16 399.15,1323.04 458.92,1334.68 518.69,1338.56" fill="none" stroke="#4c1f1f" stroke-width="2.0" stroke-linejoin="round" stroke-dasharray="8 8"/>
<polyline points="100.30,1311.40 160.07,1263.47 219.84,1260.04 279.61,1304.55 339.38,1331.94 399.15,1331.94 458.92,1345.64 518.69,1359.33" fill="none" stroke="#4c1f1f" stroke-width="2.0" stroke-linejoin="round" stroke-dasharray="4 4 12 4"/>
<polyline points="100.30,1311.40 160.07,1259.66 219.84,1255.35 279.61,1276.91 339.38,1307.09 399.15,1320.02" fill="none" stroke="#4c1f1f" stroke-width="2.0" stroke-linejoin="round" stroke-dasharray="4 4 12 4"/>
<polyline points="100.30,1311.40 160.07,1206.63 219.84,1002.91 279.61,1189.17 339.38,1235.73 399.15,1311.40 458.92,1311.40 518.69,1311.40" fill="none" stroke="#4c1f1f" stroke-width="2.0" stroke-linejoin="round"/>
<polyline points="100.30,1311.40 160.07,1297.29 219.84,1272.60 279.61,1262.01 339.38,1265.54 399.15,1205.57 458.92,1297.29 518.69,1314.93" fill="none" stroke="#4c1f1f" stroke-width="2.0" stroke-linejoin="round"/>
<polyline points="100.30,1311.40 160.07,1130.96 219.84,1072.76 279.61,1212.45 339.38,1253.20 399.15,1305.58" fill="none" stroke="#4c1f1f" stroke-width="2.0" stroke-linejoin="round"/>
<polyline points="100.30,1311.40 160.07,1119.07 219.84,1073.52 279.61,1194.99 339.38,1245.60 399.15,1301.28 458.92,1316.46 518.69,1306.34" fill="none" stroke="#4c1f1f" stroke-width="2.0" stroke-linejoin="round"/>
<polyline points="100.30,1311.40 160.07,1087.20 219.84,996.66 279.61,1186.37 339.38,1246.73 399.15,1298.47 458.92,1302.78 518.69,1298.47" fill="none" stroke="#4c1f1f" stroke-width="2.0" stroke-linejoin="round"/>
<polyline points="100.30,1311.40 160.07,1113.50 219.84,1026.20 279.61,1154.25 339.38,1194.99 399.15,1253.20 458.92,1264.84 518.69,1299.76" fill="none" stroke="#4c1f1f" stroke-width="2.0" stroke-linejoin="round"/>
<g transform="translate(100.30 1311.40) scale(1.320 1.420)"><circle r="3.6" fill="none" stroke="#4c1f1f" stroke-width="1.35" vector-effect="non-scaling-stroke"/></g>
<g transform="translate(160.07 1288.12) scale(1.320 1.420)"><circle r="3.6" fill="none" stroke="#4c1f1f" stroke-width="1.35" vector-effect="non-scaling-stroke"/></g>
<g transform="translate(219.84 1282.30) scale(1.320 1.420)"><circle r="3.6" fill="none" stroke="#4c1f1f" stroke-width="1.35" vector-effect="non-scaling-stroke"/></g>
<g transform="translate(279.61 1305.58) scale(1.320 1.420)"><circle r="3.6" fill="none" stroke="#4c1f1f" stroke-width="1.35" vector-effect="non-scaling-stroke"/></g>
<g transform="translate(339.38 1311.40) scale(1.320 1.420)"><circle r="3.6" fill="none" stroke="#4c1f1f" stroke-width="1.35" vector-effect="non-scaling-stroke"/></g>
<g transform="translate(399.15 1311.40) scale(1.320 1.420)"><circle r="3.6" fill="none" stroke="#4c1f1f" stroke-width="1.35" vector-effect="non-scaling-stroke"/></g>
<g transform="translate(458.92 1311.40) scale(1.320 1.420)"><circle r="3.6" fill="none" stroke="#4c1f1f" stroke-width="1.35" vector-effect="non-scaling-stroke"/></g>
<g transform="translate(518.69 1311.40) scale(1.320 1.420)"><circle r="3.6" fill="none" stroke="#4c1f1f" stroke-width="1.35" vector-effect="non-scaling-stroke"/></g>
<g transform="translate(100.30 1311.40) scale(1.320 1.420)"><circle r="3.7" fill="#4c1f1f"/></g>
<g transform="translate(160.07 1280.36) scale(1.320 1.420)"><circle r="3.7" fill="#4c1f1f"/></g>
<g transform="translate(219.84 1284.24) scale(1.320 1.420)"><circle r="3.7" fill="#4c1f1f"/></g>
<g transform="translate(279.61 1315.28) scale(1.320 1.420)"><circle r="3.7" fill="#4c1f1f"/></g>
<g transform="translate(339.38 1319.16) scale(1.320 1.420)"><circle r="3.7" fill="#4c1f1f"/></g>
<g transform="translate(399.15 1323.04) scale(1.320 1.420)"><circle r="3.7" fill="#4c1f1f"/></g>
<g transform="translate(458.92 1334.68) scale(1.320 1.420)"><circle r="3.7" fill="#4c1f1f"/></g>
<g transform="translate(518.69 1338.56) scale(1.320 1.420)"><circle r="3.7" fill="#4c1f1f"/></g>
<g transform="translate(100.30 1311.40) scale(1.320 1.420)"><rect x="-3.65" y="-3.65" width="7.3" height="7.3" fill="none" stroke="#4c1f1f" stroke-width="1.35" vector-effect="non-scaling-stroke"/></g>
<g transform="translate(160.07 1263.47) scale(1.320 1.420)"><rect x="-3.65" y="-3.65" width="7.3" height="7.3" fill="none" stroke="#4c1f1f" stroke-width="1.35" vector-effect="non-scaling-stroke"/></g>
<g transform="translate(219.84 1260.04) scale(1.320 1.420)"><rect x="-3.65" y="-3.65" width="7.3" height="7.3" fill="none" stroke="#4c1f1f" stroke-width="1.35" vector-effect="non-scaling-stroke"/></g>
<g transform="translate(279.61 1304.55) scale(1.320 1.420)"><rect x="-3.65" y="-3.65" width="7.3" height="7.3" fill="none" stroke="#4c1f1f" stroke-width="1.35" vector-effect="non-scaling-stroke"/></g>
<g transform="translate(339.38 1331.94) scale(1.320 1.420)"><rect x="-3.65" y="-3.65" width="7.3" height="7.3" fill="none" stroke="#4c1f1f" stroke-width="1.35" vector-effect="non-scaling-stroke"/></g>
<g transform="translate(399.15 1331.94) scale(1.320 1.420)"><rect x="-3.65" y="-3.65" width="7.3" height="7.3" fill="none" stroke="#4c1f1f" stroke-width="1.35" vector-effect="non-scaling-stroke"/></g>
<g transform="translate(458.92 1345.64) scale(1.320 1.420)"><rect x="-3.65" y="-3.65" width="7.3" height="7.3" fill="none" stroke="#4c1f1f" stroke-width="1.35" vector-effect="non-scaling-stroke"/></g>
<g transform="translate(518.69 1359.33) scale(1.320 1.420)"><rect x="-3.65" y="-3.65" width="7.3" height="7.3" fill="none" stroke="#4c1f1f" stroke-width="1.35" vector-effect="non-scaling-stroke"/></g>
<g transform="translate(100.30 1311.40) scale(1.320 1.420)"><rect x="-3.5" y="-3.5" width="7" height="7" fill="#4c1f1f"/></g>
<g transform="translate(160.07 1259.66) scale(1.320 1.420)"><rect x="-3.5" y="-3.5" width="7" height="7" fill="#4c1f1f"/></g>
<g transform="translate(219.84 1255.35) scale(1.320 1.420)"><rect x="-3.5" y="-3.5" width="7" height="7" fill="#4c1f1f"/></g>
<g transform="translate(279.61 1276.91) scale(1.320 1.420)"><rect x="-3.5" y="-3.5" width="7" height="7" fill="#4c1f1f"/></g>
<g transform="translate(339.38 1307.09) scale(1.320 1.420)"><rect x="-3.5" y="-3.5" width="7" height="7" fill="#4c1f1f"/></g>
<g transform="translate(399.15 1320.02) scale(1.320 1.420)"><rect x="-3.5" y="-3.5" width="7" height="7" fill="#4c1f1f"/></g>
<g transform="translate(100.30 1311.40) scale(1.320 1.420)"><polygon points="0.00,-5.45 4.72,2.73 -4.72,2.73" fill="none" stroke="#4c1f1f" stroke-width="1.35" vector-effect="non-scaling-stroke"/></g>
<g transform="translate(160.07 1206.63) scale(1.320 1.420)"><polygon points="0.00,-5.45 4.72,2.73 -4.72,2.73" fill="none" stroke="#4c1f1f" stroke-width="1.35" vector-effect="non-scaling-stroke"/></g>
<g transform="translate(219.84 1002.91) scale(1.320 1.420)"><polygon points="0.00,-5.45 4.72,2.73 -4.72,2.73" fill="none" stroke="#4c1f1f" stroke-width="1.35" vector-effect="non-scaling-stroke"/></g>
<g transform="translate(279.61 1189.17) scale(1.320 1.420)"><polygon points="0.00,-5.45 4.72,2.73 -4.72,2.73" fill="none" stroke="#4c1f1f" stroke-width="1.35" vector-effect="non-scaling-stroke"/></g>
<g transform="translate(339.38 1235.73) scale(1.320 1.420)"><polygon points="0.00,-5.45 4.72,2.73 -4.72,2.73" fill="none" stroke="#4c1f1f" stroke-width="1.35" vector-effect="non-scaling-stroke"/></g>
<g transform="translate(399.15 1311.40) scale(1.320 1.420)"><polygon points="0.00,-5.45 4.72,2.73 -4.72,2.73" fill="none" stroke="#4c1f1f" stroke-width="1.35" vector-effect="non-scaling-stroke"/></g>
<g transform="translate(458.92 1311.40) scale(1.320 1.420)"><polygon points="0.00,-5.45 4.72,2.73 -4.72,2.73" fill="none" stroke="#4c1f1f" stroke-width="1.35" vector-effect="non-scaling-stroke"/></g>
<g transform="translate(518.69 1311.40) scale(1.320 1.420)"><polygon points="0.00,-5.45 4.72,2.73 -4.72,2.73" fill="none" stroke="#4c1f1f" stroke-width="1.35" vector-effect="non-scaling-stroke"/></g>
<g transform="translate(100.30 1311.40) scale(1.320 1.420)"><polygon points="0.00,5.45 4.72,-2.73 -4.72,-2.73" fill="none" stroke="#4c1f1f" stroke-width="1.35" vector-effect="non-scaling-stroke"/></g>
<g transform="translate(160.07 1297.29) scale(1.320 1.420)"><polygon points="0.00,5.45 4.72,-2.73 -4.72,-2.73" fill="none" stroke="#4c1f1f" stroke-width="1.35" vector-effect="non-scaling-stroke"/></g>
<g transform="translate(219.84 1272.60) scale(1.320 1.420)"><polygon points="0.00,5.45 4.72,-2.73 -4.72,-2.73" fill="none" stroke="#4c1f1f" stroke-width="1.35" vector-effect="non-scaling-stroke"/></g>
<g transform="translate(279.61 1262.01) scale(1.320 1.420)"><polygon points="0.00,5.45 4.72,-2.73 -4.72,-2.73" fill="none" stroke="#4c1f1f" stroke-width="1.35" vector-effect="non-scaling-stroke"/></g>
<g transform="translate(339.38 1265.54) scale(1.320 1.420)"><polygon points="0.00,5.45 4.72,-2.73 -4.72,-2.73" fill="none" stroke="#4c1f1f" stroke-width="1.35" vector-effect="non-scaling-stroke"/></g>
<g transform="translate(399.15 1205.57) scale(1.320 1.420)"><polygon points="0.00,5.45 4.72,-2.73 -4.72,-2.73" fill="none" stroke="#4c1f1f" stroke-width="1.35" vector-effect="non-scaling-stroke"/></g>
<g transform="translate(458.92 1297.29) scale(1.320 1.420)"><polygon points="0.00,5.45 4.72,-2.73 -4.72,-2.73" fill="none" stroke="#4c1f1f" stroke-width="1.35" vector-effect="non-scaling-stroke"/></g>
<g transform="translate(518.69 1314.93) scale(1.320 1.420)"><polygon points="0.00,5.45 4.72,-2.73 -4.72,-2.73" fill="none" stroke="#4c1f1f" stroke-width="1.35" vector-effect="non-scaling-stroke"/></g>
<g transform="translate(100.30 1311.40) scale(1.320 1.420)"><polygon points="0.00,-5.50 4.76,2.75 -4.76,2.75" fill="#4c1f1f"/></g>
<g transform="translate(160.07 1130.96) scale(1.320 1.420)"><polygon points="0.00,-5.50 4.76,2.75 -4.76,2.75" fill="#4c1f1f"/></g>
<g transform="translate(219.84 1072.76) scale(1.320 1.420)"><polygon points="0.00,-5.50 4.76,2.75 -4.76,2.75" fill="#4c1f1f"/></g>
<g transform="translate(279.61 1212.45) scale(1.320 1.420)"><polygon points="0.00,-5.50 4.76,2.75 -4.76,2.75" fill="#4c1f1f"/></g>
<g transform="translate(339.38 1253.20) scale(1.320 1.420)"><polygon points="0.00,-5.50 4.76,2.75 -4.76,2.75" fill="#4c1f1f"/></g>
<g transform="translate(399.15 1305.58) scale(1.320 1.420)"><polygon points="0.00,-5.50 4.76,2.75 -4.76,2.75" fill="#4c1f1f"/></g>
<g transform="translate(100.30 1311.40) scale(1.320 1.420)"><polygon points="0.00,5.45 4.72,-2.73 -4.72,-2.73" fill="none" stroke="#4c1f1f" stroke-width="1.35" vector-effect="non-scaling-stroke"/></g>
<g transform="translate(160.07 1119.07) scale(1.320 1.420)"><polygon points="0.00,5.45 4.72,-2.73 -4.72,-2.73" fill="none" stroke="#4c1f1f" stroke-width="1.35" vector-effect="non-scaling-stroke"/></g>
<g transform="translate(219.84 1073.52) scale(1.320 1.420)"><polygon points="0.00,5.45 4.72,-2.73 -4.72,-2.73" fill="none" stroke="#4c1f1f" stroke-width="1.35" vector-effect="non-scaling-stroke"/></g>
<g transform="translate(279.61 1194.99) scale(1.320 1.420)"><polygon points="0.00,5.45 4.72,-2.73 -4.72,-2.73" fill="none" stroke="#4c1f1f" stroke-width="1.35" vector-effect="non-scaling-stroke"/></g>
<g transform="translate(339.38 1245.60) scale(1.320 1.420)"><polygon points="0.00,5.45 4.72,-2.73 -4.72,-2.73" fill="none" stroke="#4c1f1f" stroke-width="1.35" vector-effect="non-scaling-stroke"/></g>
<g transform="translate(399.15 1301.28) scale(1.320 1.420)"><polygon points="0.00,5.45 4.72,-2.73 -4.72,-2.73" fill="none" stroke="#4c1f1f" stroke-width="1.35" vector-effect="non-scaling-stroke"/></g>
<g transform="translate(458.92 1316.46) scale(1.320 1.420)"><polygon points="0.00,5.45 4.72,-2.73 -4.72,-2.73" fill="none" stroke="#4c1f1f" stroke-width="1.35" vector-effect="non-scaling-stroke"/></g>
<g transform="translate(518.69 1306.34) scale(1.320 1.420)"><polygon points="0.00,5.45 4.72,-2.73 -4.72,-2.73" fill="none" stroke="#4c1f1f" stroke-width="1.35" vector-effect="non-scaling-stroke"/></g>
<g transform="translate(100.30 1311.40) scale(1.320 1.420)"><polygon points="0,-3.50 3.50,0 0,3.50 -3.50,0" fill="#4c1f1f"/></g>
<g transform="translate(160.07 1087.20) scale(1.320 1.420)"><polygon points="0,-3.50 3.50,0 0,3.50 -3.50,0" fill="#4c1f1f"/></g>
<g transform="translate(219.84 996.66) scale(1.320 1.420)"><polygon points="0,-3.50 3.50,0 0,3.50 -3.50,0" fill="#4c1f1f"/></g>
<g transform="translate(279.61 1186.37) scale(1.320 1.420)"><polygon points="0,-3.50 3.50,0 0,3.50 -3.50,0" fill="#4c1f1f"/></g>
<g transform="translate(339.38 1246.73) scale(1.320 1.420)"><polygon points="0,-3.50 3.50,0 0,3.50 -3.50,0" fill="#4c1f1f"/></g>
<g transform="translate(399.15 1298.47) scale(1.320 1.420)"><polygon points="0,-3.50 3.50,0 0,3.50 -3.50,0" fill="#4c1f1f"/></g>
<g transform="translate(458.92 1302.78) scale(1.320 1.420)"><polygon points="0,-3.50 3.50,0 0,3.50 -3.50,0" fill="#4c1f1f"/></g>
<g transform="translate(518.69 1298.47) scale(1.320 1.420)"><polygon points="0,-3.50 3.50,0 0,3.50 -3.50,0" fill="#4c1f1f"/></g>
<g transform="translate(100.30 1311.40) scale(1.320 1.420)"><polygon points="0,-4.60 4.60,0 0,4.60 -4.60,0" fill="none" stroke="#4c1f1f" stroke-width="1.35" vector-effect="non-scaling-stroke"/></g>
<g transform="translate(160.07 1113.50) scale(1.320 1.420)"><polygon points="0,-4.60 4.60,0 0,4.60 -4.60,0" fill="none" stroke="#4c1f1f" stroke-width="1.35" vector-effect="non-scaling-stroke"/></g>
<g transform="translate(219.84 1026.20) scale(1.320 1.420)"><polygon points="0,-4.60 4.60,0 0,4.60 -4.60,0" fill="none" stroke="#4c1f1f" stroke-width="1.35" vector-effect="non-scaling-stroke"/></g>
<g transform="translate(279.61 1154.25) scale(1.320 1.420)"><polygon points="0,-4.60 4.60,0 0,4.60 -4.60,0" fill="none" stroke="#4c1f1f" stroke-width="1.35" vector-effect="non-scaling-stroke"/></g>
<g transform="translate(339.38 1194.99) scale(1.320 1.420)"><polygon points="0,-4.60 4.60,0 0,4.60 -4.60,0" fill="none" stroke="#4c1f1f" stroke-width="1.35" vector-effect="non-scaling-stroke"/></g>
<g transform="translate(399.15 1253.20) scale(1.320 1.420)"><polygon points="0,-4.60 4.60,0 0,4.60 -4.60,0" fill="none" stroke="#4c1f1f" stroke-width="1.35" vector-effect="non-scaling-stroke"/></g>
<g transform="translate(458.92 1264.84) scale(1.320 1.420)"><polygon points="0,-4.60 4.60,0 0,4.60 -4.60,0" fill="none" stroke="#4c1f1f" stroke-width="1.35" vector-effect="non-scaling-stroke"/></g>
<g transform="translate(518.69 1299.76) scale(1.320 1.420)"><polygon points="0,-4.60 4.60,0 0,4.60 -4.60,0" fill="none" stroke="#4c1f1f" stroke-width="1.35" vector-effect="non-scaling-stroke"/></g></g>
<path d="M64.40 978.40V1377.50H554.50" fill="none" stroke="#000" stroke-width="2" stroke-linejoin="round"/>
<path d="M61.60 1311.40H64.4" stroke="#333" stroke-width="1.4"/>
<text x="0" y="0" transform="translate(58.10 1316.15) scale(0.8800 1)" fill="#4d4d4d" style="font-size:15.0px;" text-anchor="end">0</text>
<path d="M61.60 1194.99H64.4" stroke="#333" stroke-width="1.4"/>
<text x="0" y="0" transform="translate(58.10 1199.74) scale(0.8800 1)" fill="#4d4d4d" style="font-size:15.0px;" text-anchor="end">100</text>
<path d="M61.60 1078.58H64.4" stroke="#333" stroke-width="1.4"/>
<text x="0" y="0" transform="translate(58.10 1083.33) scale(0.8800 1)" fill="#4d4d4d" style="font-size:15.0px;" text-anchor="end">200</text>
<path d="M100.30 1377.5V1380.30" stroke="#333" stroke-width="1.4"/>
<text x="0" y="0" transform="translate(98.80 1392.90) scale(0.8600 1)" fill="#4d4d4d" style="font-size:15.0px;" text-anchor="middle">T0</text>
<path d="M160.07 1377.5V1380.30" stroke="#333" stroke-width="1.4"/>
<text x="0" y="0" transform="translate(158.57 1392.90) scale(0.8600 1)" fill="#4d4d4d" style="font-size:15.0px;" text-anchor="middle">T3</text>
<path d="M219.84 1377.5V1380.30" stroke="#333" stroke-width="1.4"/>
<text x="0" y="0" transform="translate(218.34 1392.90) scale(0.8600 1)" fill="#4d4d4d" style="font-size:15.0px;" text-anchor="middle">T6</text>
<path d="M279.61 1377.5V1380.30" stroke="#333" stroke-width="1.4"/>
<text x="0" y="0" transform="translate(278.11 1392.90) scale(0.8600 1)" fill="#4d4d4d" style="font-size:15.0px;" text-anchor="middle">T8</text>
<path d="M339.38 1377.5V1380.30" stroke="#333" stroke-width="1.4"/>
<text x="0" y="0" transform="translate(337.88 1392.90) scale(0.8600 1)" fill="#4d4d4d" style="font-size:15.0px;" text-anchor="middle">T10</text>
<path d="M399.15 1377.5V1380.30" stroke="#333" stroke-width="1.4"/>
<text x="0" y="0" transform="translate(397.65 1392.90) scale(0.8600 1)" fill="#4d4d4d" style="font-size:15.0px;" text-anchor="middle">T24</text>
<path d="M458.92 1377.5V1380.30" stroke="#333" stroke-width="1.4"/>
<text x="0" y="0" transform="translate(457.42 1392.90) scale(0.8600 1)" fill="#4d4d4d" style="font-size:15.0px;" text-anchor="middle">T48</text>
<path d="M518.69 1377.5V1380.30" stroke="#333" stroke-width="1.4"/>
<text x="0" y="0" transform="translate(517.19 1392.90) scale(0.8600 1)" fill="#4d4d4d" style="font-size:15.0px;" text-anchor="middle">T72</text>
<text x="0" y="0" transform="translate(287.60 1410.10) scale(0.9118 1)" fill="#000" style="font-size:16.2px;">Timepoints</text>
<text x="0" y="0" transform="translate(22.90 1317.90) rotate(-90)" fill="#000" style="font-size:21.0px;">aPTT change from baseline (%)</text>
<text x="0" y="0" transform="translate(61.40 967.40) scale(0.9166 1)" fill="#000" style="font-size:22.9px;">Relative aPTT change over time (%) per patient per dose level</text>
<text x="0" y="0" transform="translate(0.30 982.20) scale(1 1.059)" fill="#000" style="font-size:37.0px;">C</text>
<text x="0" y="0" transform="translate(593.30 1021.80)" fill="#000" style="font-size:14.2px;font-style:italic;">Patient</text>
<g transform="translate(601.30 1037.40)"><circle r="3.6" fill="none" stroke="#000" stroke-width="1.2" vector-effect="non-scaling-stroke"/></g>
<text x="0" y="0" transform="translate(615.30 1040.60)" fill="#000" style="font-size:12.47px;">AMC002</text>
<g transform="translate(601.30 1054.07)"><circle r="3.7" fill="#000"/></g>
<text x="0" y="0" transform="translate(615.30 1057.27)" fill="#000" style="font-size:12.47px;">AMC003</text>
<g transform="translate(601.30 1070.74)"><rect x="-3.65" y="-3.65" width="7.3" height="7.3" fill="none" stroke="#000" stroke-width="1.2" vector-effect="non-scaling-stroke"/></g>
<text x="0" y="0" transform="translate(615.30 1073.94)" fill="#000" style="font-size:12.47px;">AMC004</text>
<g transform="translate(601.30 1087.41)"><rect x="-3.5" y="-3.5" width="7" height="7" fill="#000"/></g>
<text x="0" y="0" transform="translate(615.30 1090.61)" fill="#000" style="font-size:12.47px;">AMC005</text>
<g transform="translate(601.30 1104.08)"><polygon points="0.00,-5.45 4.72,2.73 -4.72,2.73" fill="none" stroke="#000" stroke-width="1.2" vector-effect="non-scaling-stroke"/></g>
<text x="0" y="0" transform="translate(615.30 1107.28)" fill="#000" style="font-size:12.47px;">AMC006</text>
<g transform="translate(601.30 1120.75)"><polygon points="0.00,5.45 4.72,-2.73 -4.72,-2.73" fill="none" stroke="#000" stroke-width="1.2" vector-effect="non-scaling-stroke"/></g>
<text x="0" y="0" transform="translate(615.30 1123.95)" fill="#000" style="font-size:12.47px;">AMC007</text>
<g transform="translate(601.30 1137.42)"><polygon points="0.00,-5.50 4.76,2.75 -4.76,2.75" fill="#000"/></g>
<text x="0" y="0" transform="translate(615.30 1140.62)" fill="#000" style="font-size:12.47px;">AMC008</text>
<g transform="translate(601.30 1154.09)"><polygon points="0,-5.10 5.10,0 0,5.10 -5.10,0" fill="none" stroke="#000" stroke-width="1.2" vector-effect="non-scaling-stroke"/><path d="M0 -5.10V5.10M-5.10 0H5.10" fill="none" stroke="#000" stroke-width="1.2" vector-effect="non-scaling-stroke"/></g>
<text x="0" y="0" transform="translate(615.30 1157.29)" fill="#000" style="font-size:12.47px;">AMC009</text>
<g transform="translate(601.30 1170.76)"><polygon points="0,-3.50 3.50,0 0,3.50 -3.50,0" fill="#000"/></g>
<text x="0" y="0" transform="translate(615.30 1173.96)" fill="#000" style="font-size:12.47px;">AMC010</text>
<g transform="translate(601.30 1187.43)"><polygon points="0,-4.60 4.60,0 0,4.60 -4.60,0" fill="none" stroke="#000" stroke-width="1.2" vector-effect="non-scaling-stroke"/></g>
<text x="0" y="0" transform="translate(615.30 1190.63)" fill="#000" style="font-size:12.47px;">AMC011</text>
<text x="0" y="0" transform="translate(593.40 1222.20)" fill="#000" style="font-size:14.2px;font-style:italic;">Dose level</text>
<path d="M594.30 1237.50H608.10" stroke="#000" stroke-width="2.0" stroke-dasharray="2 6"/>
<text x="0" y="0" transform="translate(614.90 1240.70)" fill="#000" style="font-size:12.47px;">Dose level 1</text>
<path d="M594.30 1254.17H608.10" stroke="#000" stroke-width="2.0" stroke-dasharray="4 4 12 4"/>
<text x="0" y="0" transform="translate(614.90 1257.37)" fill="#000" style="font-size:12.47px;">Dose level 2</text>
<path d="M594.30 1270.84H608.10" stroke="#000" stroke-width="2.0"/>
<text x="0" y="0" transform="translate(614.90 1274.04)" fill="#000" style="font-size:12.47px;">Dose level 3</text>
</svg>
</body></html>
